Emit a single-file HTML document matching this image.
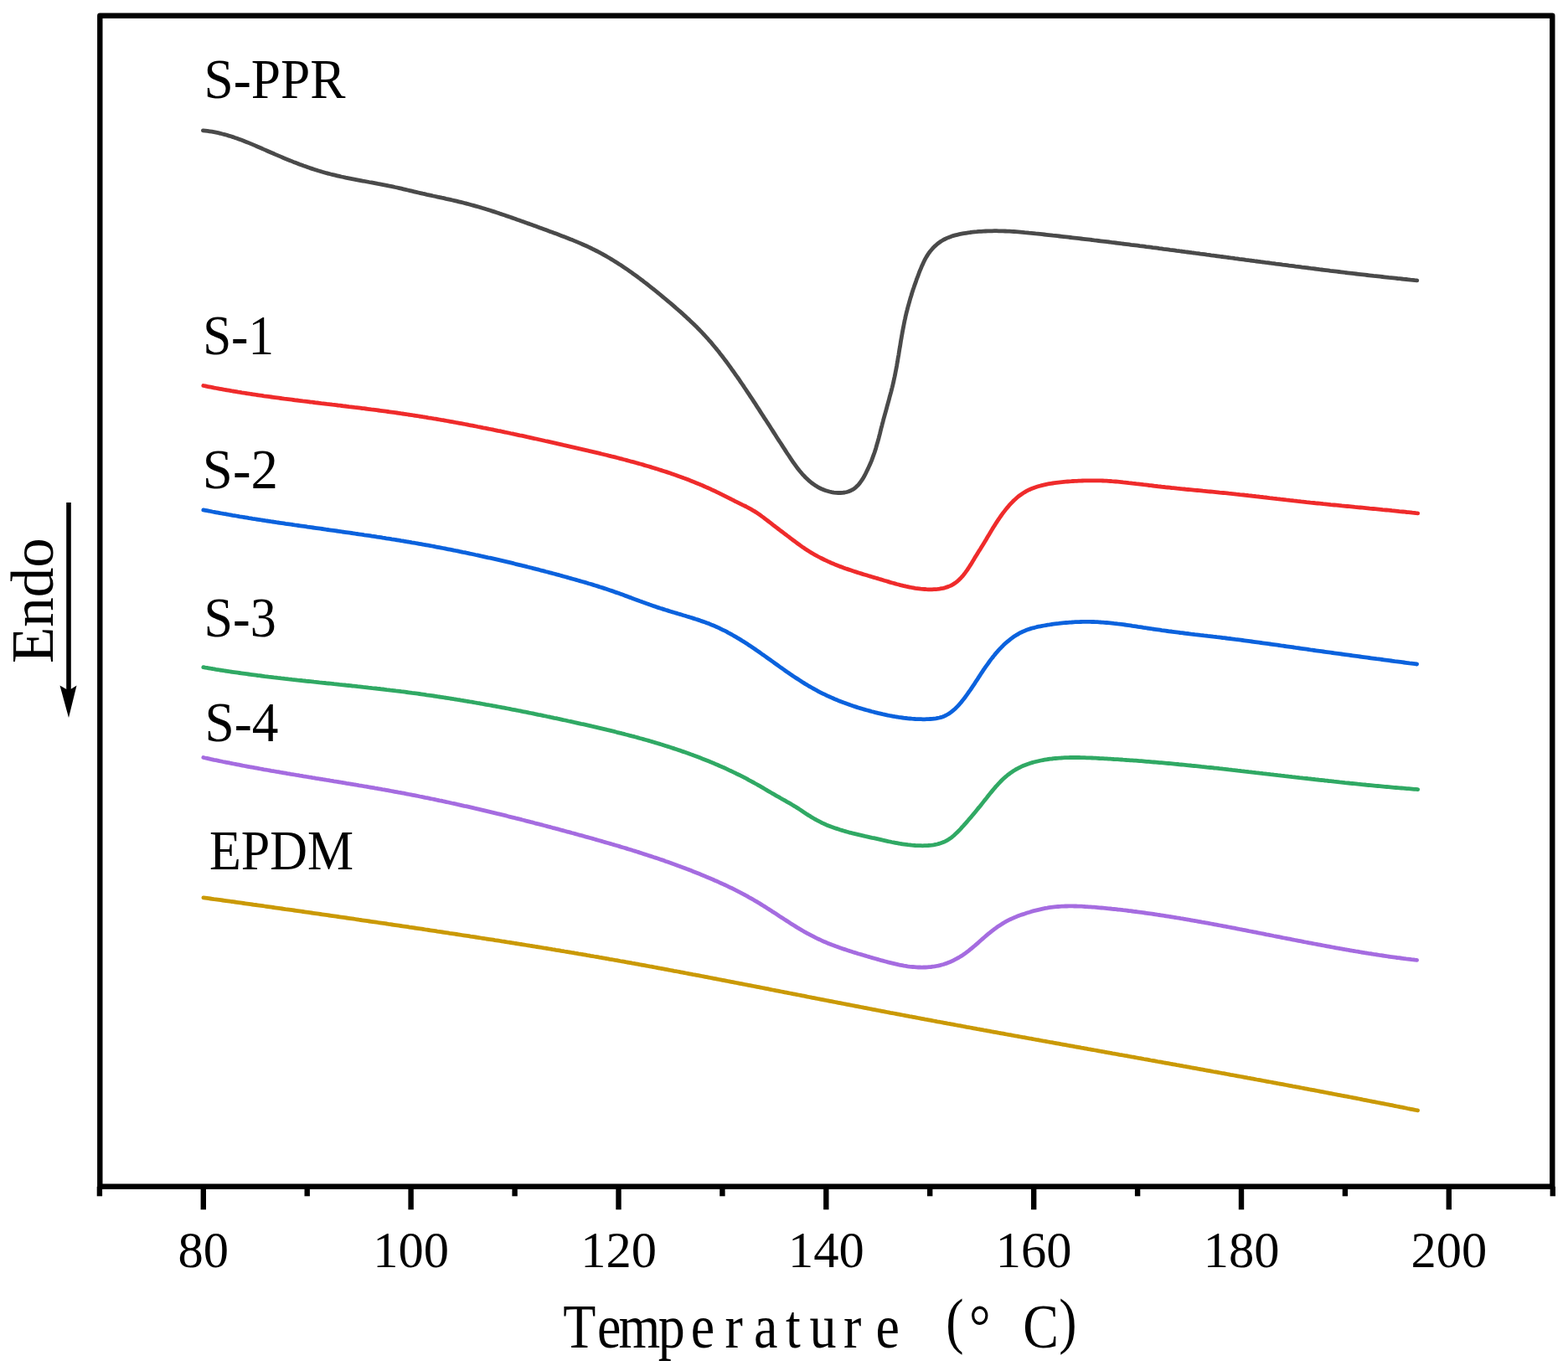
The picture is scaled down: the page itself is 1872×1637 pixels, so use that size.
<!DOCTYPE html>
<html><head><meta charset="utf-8"><title>DSC curves</title>
<style>
html,body{margin:0;padding:0;background:#fff;}
body{width:1872px;height:1637px;overflow:hidden;}
svg{display:block;}
.c{fill:none;stroke-width:4.8;stroke-linejoin:round;stroke-linecap:round;}
.ax line{stroke:#000;stroke-width:6.4;stroke-linecap:butt;}
.lbl{font-family:"Liberation Serif","Times New Roman",serif;font-size:67px;fill:#000;}
.tk{font-family:"Liberation Serif","Times New Roman",serif;font-size:60.5px;fill:#000;}
.xl{font-family:"Liberation Serif","Noto Serif CJK SC",serif;font-size:64px;fill:#000;white-space:pre;}
</style></head>
<body>
<svg width="1872" height="1637" viewBox="0 0 1872 1637">
<rect x="0" y="0" width="1872" height="1637" fill="#fff"/>
<g>
<rect x="119.3" y="18.7" width="1734.0" height="1398.1" fill="none" stroke="#000" stroke-width="6.4" stroke-linejoin="round"/>
<g class="ax">
<line x1="118.9" y1="1416.8" x2="118.9" y2="1428.3"/>
<line x1="242.8" y1="1416.8" x2="242.8" y2="1444.3"/>
<line x1="366.7" y1="1416.8" x2="366.7" y2="1428.3"/>
<line x1="490.6" y1="1416.8" x2="490.6" y2="1444.3"/>
<line x1="614.6" y1="1416.8" x2="614.6" y2="1428.3"/>
<line x1="738.5" y1="1416.8" x2="738.5" y2="1444.3"/>
<line x1="862.4" y1="1416.8" x2="862.4" y2="1428.3"/>
<line x1="986.3" y1="1416.8" x2="986.3" y2="1444.3"/>
<line x1="1110.2" y1="1416.8" x2="1110.2" y2="1428.3"/>
<line x1="1234.2" y1="1416.8" x2="1234.2" y2="1444.3"/>
<line x1="1358.1" y1="1416.8" x2="1358.1" y2="1428.3"/>
<line x1="1482.0" y1="1416.8" x2="1482.0" y2="1444.3"/>
<line x1="1605.9" y1="1416.8" x2="1605.9" y2="1428.3"/>
<line x1="1729.8" y1="1416.8" x2="1729.8" y2="1444.3"/>
<line x1="1853.8" y1="1416.8" x2="1853.8" y2="1428.3"/>
</g>
<g>
<path class="c" stroke="#4a4a4a" d="M242.4,155.8 L245.0,156.1 L247.7,156.4 L250.3,156.8 L252.9,157.2 L255.5,157.7 L258.0,158.2 L260.6,158.7 L263.1,159.3 L265.7,160.0 L268.2,160.6 L270.7,161.3 L273.2,162.1 L275.7,162.8 L278.1,163.6 L280.6,164.5 L283.0,165.3 L285.5,166.2 L287.9,167.1 L290.4,168.0 L292.8,169.0 L295.2,169.9 L297.6,170.9 L300.0,171.9 L302.4,172.9 L304.8,173.9 L307.2,175.0 L309.6,176.0 L312.0,177.0 L314.4,178.1 L316.8,179.1 L319.2,180.2 L321.5,181.2 L323.9,182.3 L326.3,183.3 L328.7,184.4 L331.1,185.4 L333.5,186.4 L335.9,187.4 L338.3,188.5 L340.7,189.5 L343.1,190.4 L345.6,191.4 L348.0,192.4 L350.4,193.4 L352.8,194.3 L355.3,195.2 L357.7,196.2 L360.1,197.1 L362.6,198.0 L365.0,198.8 L367.5,199.7 L370.0,200.6 L372.4,201.4 L374.9,202.2 L377.4,203.0 L379.8,203.8 L382.3,204.5 L384.8,205.3 L387.3,206.0 L389.8,206.7 L392.3,207.3 L394.9,208.0 L397.4,208.6 L399.9,209.2 L402.4,209.8 L405.0,210.4 L407.5,211.0 L410.1,211.5 L412.6,212.1 L415.2,212.6 L417.7,213.1 L420.3,213.6 L422.9,214.1 L425.4,214.6 L428.0,215.1 L430.6,215.6 L433.1,216.1 L435.7,216.5 L438.3,217.0 L440.8,217.5 L443.4,217.9 L446.0,218.4 L448.5,218.9 L451.1,219.4 L453.7,219.8 L456.2,220.3 L458.8,220.8 L461.4,221.3 L463.9,221.9 L466.5,222.4 L469.0,222.9 L471.6,223.5 L474.1,224.0 L476.6,224.6 L479.2,225.2 L481.7,225.8 L484.2,226.4 L486.8,227.0 L489.3,227.6 L491.8,228.2 L494.4,228.8 L496.9,229.4 L499.4,230.0 L502.0,230.6 L504.5,231.2 L507.0,231.7 L509.6,232.3 L512.1,232.8 L514.7,233.4 L517.2,234.0 L519.8,234.5 L522.3,235.1 L524.9,235.6 L527.4,236.2 L530.0,236.7 L532.5,237.3 L535.0,237.8 L537.6,238.4 L540.1,239.0 L542.7,239.6 L545.2,240.2 L547.7,240.8 L550.3,241.4 L552.8,242.0 L555.3,242.7 L557.8,243.3 L560.3,244.0 L562.9,244.7 L565.4,245.4 L567.9,246.1 L570.4,246.8 L572.9,247.5 L575.4,248.3 L577.9,249.0 L580.4,249.8 L582.8,250.5 L585.3,251.3 L587.8,252.1 L590.3,252.9 L592.8,253.7 L595.2,254.5 L597.7,255.4 L600.2,256.2 L602.7,257.0 L605.1,257.9 L607.6,258.7 L610.1,259.6 L612.5,260.4 L615.0,261.3 L617.4,262.2 L619.9,263.0 L622.4,263.9 L624.8,264.8 L627.3,265.7 L629.7,266.6 L632.2,267.4 L634.6,268.3 L637.1,269.2 L639.5,270.1 L642.0,271.0 L644.5,271.9 L646.9,272.8 L649.4,273.7 L651.8,274.6 L654.3,275.5 L656.7,276.4 L659.2,277.3 L661.6,278.2 L664.1,279.1 L666.5,280.0 L668.9,280.9 L671.4,281.9 L673.8,282.8 L676.2,283.7 L678.7,284.7 L681.1,285.7 L683.5,286.6 L685.9,287.6 L688.3,288.6 L690.7,289.6 L693.1,290.6 L695.5,291.7 L697.8,292.7 L700.2,293.8 L702.6,294.9 L704.9,296.0 L707.2,297.2 L709.6,298.3 L711.9,299.5 L714.2,300.7 L716.5,301.9 L718.8,303.1 L721.0,304.4 L723.3,305.7 L725.6,307.0 L727.8,308.3 L730.0,309.6 L732.3,311.0 L734.5,312.4 L736.7,313.7 L738.9,315.2 L741.1,316.6 L743.2,318.0 L745.4,319.5 L747.6,320.9 L749.7,322.4 L751.9,323.9 L754.0,325.4 L756.1,327.0 L758.3,328.5 L760.4,330.0 L762.5,331.6 L764.6,333.2 L766.7,334.7 L768.7,336.3 L770.8,337.9 L772.9,339.5 L774.9,341.2 L777.0,342.8 L779.0,344.4 L781.1,346.0 L783.1,347.7 L785.2,349.3 L787.2,351.0 L789.2,352.7 L791.2,354.3 L793.2,356.0 L795.2,357.7 L797.2,359.3 L799.2,361.0 L801.2,362.7 L803.2,364.4 L805.2,366.1 L807.1,367.8 L809.1,369.5 L811.0,371.2 L813.0,372.9 L814.9,374.6 L816.8,376.4 L818.7,378.1 L820.6,379.9 L822.5,381.6 L824.4,383.4 L826.3,385.2 L828.2,387.0 L830.0,388.8 L831.9,390.6 L833.7,392.5 L835.5,394.3 L837.3,396.2 L839.1,398.1 L840.9,400.0 L842.6,401.9 L844.4,403.8 L846.1,405.8 L847.8,407.7 L849.6,409.7 L851.2,411.7 L852.9,413.7 L854.6,415.7 L856.2,417.8 L857.9,419.8 L859.5,421.9 L861.1,423.9 L862.7,426.0 L864.3,428.1 L865.9,430.2 L867.5,432.3 L869.0,434.4 L870.6,436.6 L872.1,438.7 L873.6,440.8 L875.2,443.0 L876.7,445.1 L878.2,447.3 L879.7,449.4 L881.2,451.5 L882.7,453.7 L884.1,455.8 L885.6,458.0 L887.1,460.1 L888.5,462.3 L890.0,464.5 L891.4,466.6 L892.9,468.8 L894.3,470.9 L895.7,473.1 L897.1,475.2 L898.6,477.4 L900.0,479.6 L901.4,481.7 L902.8,483.9 L904.2,486.1 L905.6,488.2 L907.0,490.4 L908.4,492.6 L909.8,494.8 L911.2,496.9 L912.6,499.1 L914.1,501.3 L915.5,503.5 L916.9,505.6 L918.3,507.8 L919.7,510.0 L921.1,512.2 L922.5,514.4 L923.9,516.6 L925.3,518.8 L926.7,521.0 L928.1,523.2 L929.5,525.3 L930.9,527.5 L932.4,529.7 L933.8,531.9 L935.2,534.2 L936.7,536.4 L938.1,538.6 L939.5,540.8 L941.0,543.0 L942.5,545.2 L943.9,547.4 L945.4,549.6 L946.9,551.8 L948.4,553.9 L950.0,556.1 L951.5,558.2 L953.1,560.3 L954.7,562.3 L956.4,564.3 L958.1,566.3 L959.9,568.2 L961.6,570.0 L963.5,571.8 L965.4,573.6 L967.3,575.2 L969.3,576.8 L971.4,578.3 L973.5,579.7 L975.7,581.1 L977.9,582.3 L980.2,583.5 L982.6,584.5 L985.1,585.5 L987.7,586.3 L990.2,587.0 L992.9,587.6 L995.5,588.1 L998.2,588.4 L1000.8,588.5 L1003.4,588.5 L1006.0,588.3 L1008.5,588.0 L1011.0,587.5 L1013.3,586.8 L1015.6,585.8 L1017.8,584.7 L1019.8,583.4 L1021.8,581.8 L1023.6,580.1 L1025.3,578.3 L1026.9,576.2 L1028.4,574.1 L1029.9,571.9 L1031.3,569.6 L1032.6,567.2 L1033.8,564.8 L1035.0,562.3 L1036.2,559.9 L1037.3,557.4 L1038.4,555.0 L1039.5,552.5 L1040.5,550.1 L1041.4,547.6 L1042.3,545.1 L1043.2,542.7 L1044.1,540.2 L1044.9,537.7 L1045.7,535.2 L1046.4,532.7 L1047.1,530.2 L1047.8,527.8 L1048.5,525.3 L1049.2,522.8 L1049.8,520.3 L1050.5,517.8 L1051.1,515.3 L1051.7,512.8 L1052.3,510.3 L1053.0,507.8 L1053.6,505.3 L1054.3,502.8 L1054.9,500.3 L1055.6,497.8 L1056.3,495.3 L1057.0,492.8 L1057.7,490.3 L1058.4,487.8 L1059.1,485.2 L1059.8,482.7 L1060.5,480.2 L1061.2,477.7 L1061.8,475.2 L1062.5,472.6 L1063.2,470.1 L1063.9,467.6 L1064.5,465.1 L1065.2,462.5 L1065.8,460.0 L1066.4,457.4 L1067.0,454.9 L1067.5,452.3 L1068.1,449.8 L1068.6,447.2 L1069.1,444.6 L1069.6,442.1 L1070.1,439.5 L1070.6,436.9 L1071.0,434.4 L1071.5,431.8 L1071.9,429.2 L1072.3,426.6 L1072.8,424.1 L1073.2,421.5 L1073.6,418.9 L1074.0,416.3 L1074.5,413.8 L1074.9,411.2 L1075.3,408.6 L1075.7,406.0 L1076.2,403.5 L1076.6,400.9 L1077.1,398.3 L1077.5,395.8 L1078.0,393.2 L1078.5,390.7 L1079.0,388.1 L1079.5,385.6 L1080.0,383.0 L1080.6,380.5 L1081.1,378.0 L1081.7,375.5 L1082.3,372.9 L1083.0,370.4 L1083.6,367.9 L1084.3,365.4 L1085.0,362.9 L1085.7,360.4 L1086.4,357.9 L1087.1,355.4 L1087.9,353.0 L1088.6,350.5 L1089.4,348.0 L1090.2,345.5 L1091.1,343.0 L1091.9,340.6 L1092.8,338.1 L1093.7,335.6 L1094.5,333.1 L1095.5,330.7 L1096.4,328.2 L1097.3,325.7 L1098.3,323.2 L1099.3,320.8 L1100.3,318.3 L1101.4,315.9 L1102.5,313.5 L1103.6,311.2 L1104.8,308.9 L1106.1,306.6 L1107.5,304.4 L1108.9,302.2 L1110.4,300.2 L1112.1,298.2 L1113.8,296.2 L1115.6,294.4 L1117.5,292.7 L1119.4,291.0 L1121.5,289.5 L1123.6,288.0 L1125.8,286.7 L1128.1,285.5 L1130.4,284.4 L1132.8,283.4 L1135.3,282.5 L1137.7,281.6 L1140.3,280.9 L1142.8,280.3 L1145.4,279.7 L1148.0,279.2 L1150.6,278.7 L1153.2,278.3 L1155.8,277.9 L1158.4,277.5 L1161.0,277.2 L1163.6,276.9 L1166.2,276.7 L1168.8,276.4 L1171.4,276.3 L1174.1,276.1 L1176.7,276.0 L1179.3,275.9 L1181.9,275.8 L1184.5,275.8 L1187.1,275.7 L1189.7,275.7 L1192.3,275.8 L1194.9,275.8 L1197.5,275.9 L1200.1,276.0 L1202.7,276.1 L1205.3,276.2 L1207.9,276.4 L1210.5,276.5 L1213.0,276.7 L1215.6,276.9 L1218.2,277.1 L1220.8,277.3 L1223.4,277.6 L1226.0,277.8 L1228.6,278.1 L1231.2,278.3 L1233.8,278.6 L1236.4,278.9 L1239.0,279.1 L1241.6,279.4 L1244.2,279.7 L1246.8,280.0 L1249.4,280.3 L1252.0,280.6 L1254.6,280.9 L1257.1,281.2 L1259.7,281.4 L1262.3,281.7 L1264.9,282.0 L1267.5,282.3 L1270.1,282.6 L1272.7,282.9 L1275.3,283.2 L1277.9,283.5 L1280.5,283.8 L1283.1,284.1 L1285.6,284.4 L1288.2,284.7 L1290.8,285.0 L1293.4,285.3 L1296.0,285.6 L1298.6,285.9 L1301.2,286.2 L1303.8,286.5 L1306.4,286.9 L1308.9,287.2 L1311.5,287.5 L1314.1,287.8 L1316.7,288.1 L1319.3,288.4 L1321.9,288.7 L1324.5,289.0 L1327.1,289.4 L1329.6,289.7 L1332.2,290.0 L1334.8,290.3 L1337.4,290.6 L1340.0,291.0 L1342.6,291.3 L1345.2,291.6 L1347.7,291.9 L1350.3,292.3 L1352.9,292.6 L1355.5,292.9 L1358.1,293.2 L1360.7,293.6 L1363.3,293.9 L1365.8,294.2 L1368.4,294.6 L1371.0,294.9 L1373.6,295.2 L1376.2,295.6 L1378.8,295.9 L1381.4,296.2 L1383.9,296.6 L1386.5,296.9 L1389.1,297.3 L1391.7,297.6 L1394.3,297.9 L1396.9,298.3 L1399.5,298.6 L1402.0,298.9 L1404.6,299.3 L1407.2,299.6 L1409.8,300.0 L1412.4,300.3 L1415.0,300.7 L1417.5,301.0 L1420.1,301.3 L1422.7,301.7 L1425.3,302.0 L1427.9,302.4 L1430.5,302.7 L1433.1,303.1 L1435.6,303.4 L1438.2,303.7 L1440.8,304.1 L1443.4,304.4 L1446.0,304.8 L1448.6,305.1 L1451.1,305.5 L1453.7,305.8 L1456.3,306.2 L1458.9,306.5 L1461.5,306.8 L1464.1,307.2 L1466.7,307.5 L1469.2,307.9 L1471.8,308.2 L1474.4,308.6 L1477.0,308.9 L1479.6,309.3 L1482.2,309.6 L1484.7,309.9 L1487.3,310.3 L1489.9,310.6 L1492.5,311.0 L1495.1,311.3 L1497.7,311.7 L1500.2,312.0 L1502.8,312.3 L1505.4,312.7 L1508.0,313.0 L1510.6,313.4 L1513.2,313.7 L1515.8,314.0 L1518.3,314.4 L1520.9,314.7 L1523.5,315.1 L1526.1,315.4 L1528.7,315.7 L1531.3,316.1 L1533.9,316.4 L1536.4,316.7 L1539.0,317.1 L1541.6,317.4 L1544.2,317.7 L1546.8,318.1 L1549.4,318.4 L1552.0,318.7 L1554.5,319.1 L1557.1,319.4 L1559.7,319.7 L1562.3,320.0 L1564.9,320.4 L1567.5,320.7 L1570.1,321.0 L1572.6,321.3 L1575.2,321.7 L1577.8,322.0 L1580.4,322.3 L1583.0,322.6 L1585.6,322.9 L1588.2,323.3 L1590.8,323.6 L1593.3,323.9 L1595.9,324.2 L1598.5,324.5 L1601.1,324.8 L1603.7,325.1 L1606.3,325.5 L1608.9,325.8 L1611.5,326.1 L1614.0,326.4 L1616.6,326.7 L1619.2,327.0 L1621.8,327.3 L1624.4,327.6 L1627.0,327.9 L1629.6,328.2 L1632.2,328.5 L1634.8,328.8 L1637.4,329.1 L1639.9,329.4 L1642.5,329.6 L1645.1,329.9 L1647.7,330.2 L1650.3,330.5 L1652.9,330.8 L1655.5,331.1 L1658.1,331.4 L1660.7,331.6 L1663.3,331.9 L1665.9,332.2 L1668.5,332.5 L1671.0,332.7 L1673.6,333.0 L1676.2,333.3 L1678.8,333.5 L1681.4,333.8 L1684.0,334.1 L1686.6,334.3 L1689.2,334.6 L1691.8,334.8"/>
<path class="c" stroke="#ef2b2b" d="M242.8,460.5 L245.0,460.9 L247.2,461.4 L249.4,461.8 L251.5,462.2 L253.7,462.6 L255.9,463.1 L258.1,463.5 L260.3,463.9 L262.5,464.3 L264.7,464.7 L266.8,465.1 L269.0,465.5 L271.2,465.8 L273.4,466.2 L275.6,466.6 L277.8,467.0 L280.0,467.3 L282.2,467.7 L284.4,468.1 L286.6,468.4 L288.8,468.8 L291.0,469.1 L293.2,469.5 L295.4,469.8 L297.5,470.1 L299.7,470.5 L301.9,470.8 L304.1,471.1 L306.3,471.5 L308.5,471.8 L310.7,472.1 L312.9,472.4 L315.1,472.8 L317.3,473.1 L319.6,473.4 L321.8,473.7 L324.0,474.0 L326.2,474.3 L328.4,474.6 L330.6,474.9 L332.8,475.2 L335.0,475.5 L337.2,475.8 L339.4,476.1 L341.6,476.3 L343.8,476.6 L346.0,476.9 L348.2,477.2 L350.4,477.5 L352.6,477.8 L354.8,478.0 L357.1,478.3 L359.3,478.6 L361.5,478.9 L363.7,479.1 L365.9,479.4 L368.1,479.7 L370.3,480.0 L372.5,480.2 L374.7,480.5 L376.9,480.8 L379.1,481.0 L381.4,481.3 L383.6,481.6 L385.8,481.8 L388.0,482.1 L390.2,482.4 L392.4,482.6 L394.6,482.9 L396.8,483.2 L399.0,483.4 L401.2,483.7 L403.5,484.0 L405.7,484.2 L407.9,484.5 L410.1,484.8 L412.3,485.0 L414.5,485.3 L416.7,485.6 L418.9,485.8 L421.1,486.1 L423.3,486.4 L425.6,486.6 L427.8,486.9 L430.0,487.2 L432.2,487.5 L434.4,487.7 L436.6,488.0 L438.8,488.3 L441.0,488.6 L443.2,488.9 L445.4,489.1 L447.6,489.4 L449.8,489.7 L452.0,490.0 L454.2,490.3 L456.5,490.6 L458.7,490.9 L460.9,491.2 L463.1,491.5 L465.3,491.8 L467.5,492.1 L469.7,492.4 L471.9,492.7 L474.1,493.0 L476.3,493.3 L478.5,493.7 L480.7,494.0 L482.9,494.3 L485.1,494.6 L487.3,495.0 L489.5,495.3 L491.7,495.6 L493.9,496.0 L496.1,496.3 L498.3,496.6 L500.4,497.0 L502.6,497.3 L504.8,497.7 L507.0,498.0 L509.2,498.4 L511.4,498.8 L513.6,499.1 L515.8,499.5 L518.0,499.9 L520.2,500.2 L522.4,500.6 L524.6,501.0 L526.7,501.4 L528.9,501.7 L531.1,502.1 L533.3,502.5 L535.5,502.9 L537.7,503.3 L539.9,503.7 L542.1,504.1 L544.2,504.5 L546.4,504.9 L548.6,505.3 L550.8,505.7 L553.0,506.1 L555.2,506.5 L557.3,506.9 L559.5,507.4 L561.7,507.8 L563.9,508.2 L566.1,508.6 L568.3,509.0 L570.4,509.5 L572.6,509.9 L574.8,510.3 L577.0,510.8 L579.2,511.2 L581.3,511.6 L583.5,512.1 L585.7,512.5 L587.9,512.9 L590.0,513.4 L592.2,513.8 L594.4,514.3 L596.6,514.7 L598.8,515.2 L600.9,515.6 L603.1,516.1 L605.3,516.5 L607.5,517.0 L609.6,517.5 L611.8,517.9 L614.0,518.4 L616.2,518.8 L618.3,519.3 L620.5,519.8 L622.7,520.2 L624.9,520.7 L627.0,521.2 L629.2,521.7 L631.4,522.1 L633.5,522.6 L635.7,523.1 L637.9,523.6 L640.1,524.0 L642.2,524.5 L644.4,525.0 L646.6,525.5 L648.8,526.0 L650.9,526.5 L653.1,526.9 L655.3,527.4 L657.4,527.9 L659.6,528.4 L661.8,528.9 L664.0,529.4 L666.1,529.9 L668.3,530.4 L670.5,530.9 L672.6,531.4 L674.8,531.8 L677.0,532.3 L679.2,532.8 L681.3,533.3 L683.5,533.8 L685.7,534.3 L687.8,534.8 L690.0,535.3 L692.2,535.8 L694.4,536.3 L696.5,536.8 L698.7,537.3 L700.9,537.8 L703.0,538.4 L705.2,538.9 L707.4,539.4 L709.5,539.9 L711.7,540.4 L713.9,540.9 L716.0,541.4 L718.2,542.0 L720.4,542.5 L722.5,543.0 L724.7,543.5 L726.9,544.1 L729.0,544.6 L731.2,545.2 L733.3,545.7 L735.5,546.2 L737.7,546.8 L739.8,547.4 L742.0,547.9 L744.1,548.5 L746.3,549.0 L748.4,549.6 L750.6,550.2 L752.7,550.8 L754.9,551.3 L757.0,551.9 L759.1,552.5 L761.3,553.1 L763.4,553.7 L765.6,554.3 L767.7,554.9 L769.8,555.6 L772.0,556.2 L774.1,556.8 L776.2,557.4 L778.3,558.1 L780.5,558.7 L782.6,559.4 L784.7,560.0 L786.8,560.7 L788.9,561.4 L791.1,562.1 L793.2,562.7 L795.3,563.4 L797.4,564.1 L799.5,564.8 L801.6,565.6 L803.7,566.3 L805.8,567.0 L807.9,567.7 L809.9,568.5 L812.0,569.2 L814.1,570.0 L816.2,570.8 L818.3,571.5 L820.3,572.3 L822.4,573.1 L824.5,573.9 L826.5,574.7 L828.6,575.6 L830.7,576.4 L832.7,577.2 L834.8,578.1 L836.8,578.9 L838.9,579.8 L840.9,580.7 L842.9,581.6 L845.0,582.5 L847.0,583.4 L849.0,584.3 L851.0,585.3 L853.1,586.2 L855.1,587.2 L857.1,588.1 L859.1,589.1 L861.1,590.1 L863.1,591.1 L865.1,592.1 L867.1,593.1 L869.1,594.1 L871.1,595.1 L873.1,596.2 L875.1,597.2 L877.0,598.2 L879.0,599.1 L881.0,600.1 L883.0,601.1 L885.0,602.1 L887.0,603.1 L889.0,604.0 L891.0,605.0 L893.0,606.1 L894.9,607.1 L896.8,608.2 L898.7,609.3 L900.6,610.4 L902.5,611.6 L904.3,612.8 L906.1,614.0 L908.0,615.3 L909.7,616.6 L911.5,617.9 L913.3,619.3 L915.0,620.6 L916.8,622.0 L918.6,623.4 L920.3,624.7 L922.1,626.1 L923.8,627.5 L925.6,628.8 L927.4,630.2 L929.1,631.5 L930.9,632.9 L932.7,634.2 L934.5,635.5 L936.2,636.9 L938.0,638.2 L939.8,639.6 L941.6,640.9 L943.4,642.3 L945.1,643.6 L946.9,645.0 L948.7,646.3 L950.5,647.6 L952.3,649.0 L954.1,650.3 L955.9,651.6 L957.7,652.9 L959.5,654.1 L961.4,655.4 L963.2,656.6 L965.1,657.8 L967.0,659.0 L968.8,660.1 L970.8,661.3 L972.7,662.4 L974.6,663.4 L976.6,664.5 L978.5,665.5 L980.5,666.5 L982.5,667.5 L984.5,668.5 L986.5,669.4 L988.5,670.4 L990.6,671.3 L992.6,672.2 L994.6,673.0 L996.7,673.9 L998.8,674.7 L1000.8,675.6 L1002.9,676.4 L1005.0,677.1 L1007.1,677.9 L1009.2,678.7 L1011.3,679.4 L1013.4,680.1 L1015.5,680.8 L1017.6,681.5 L1019.7,682.2 L1021.9,682.9 L1024.0,683.6 L1026.1,684.2 L1028.2,684.9 L1030.4,685.6 L1032.5,686.2 L1034.6,686.8 L1036.8,687.5 L1038.9,688.1 L1041.0,688.7 L1043.1,689.4 L1045.3,690.0 L1047.4,690.6 L1049.5,691.3 L1051.6,691.9 L1053.7,692.5 L1055.9,693.2 L1058.0,693.8 L1060.1,694.4 L1062.2,695.1 L1064.3,695.7 L1066.5,696.3 L1068.6,696.9 L1070.7,697.5 L1072.9,698.0 L1075.0,698.6 L1077.2,699.1 L1079.4,699.7 L1081.6,700.2 L1083.8,700.6 L1086.0,701.1 L1088.2,701.5 L1090.4,701.9 L1092.6,702.3 L1094.8,702.6 L1097.0,702.9 L1099.3,703.2 L1101.5,703.4 L1103.8,703.5 L1106.0,703.7 L1108.2,703.8 L1110.5,703.8 L1112.8,703.8 L1115.0,703.7 L1117.2,703.6 L1119.5,703.4 L1121.7,703.1 L1123.9,702.7 L1126.0,702.3 L1128.1,701.8 L1130.2,701.1 L1132.3,700.4 L1134.2,699.6 L1136.2,698.7 L1138.0,697.6 L1139.9,696.4 L1141.6,695.2 L1143.3,693.8 L1144.9,692.4 L1146.5,690.8 L1148.0,689.2 L1149.5,687.6 L1150.9,685.8 L1152.2,684.1 L1153.6,682.2 L1154.9,680.4 L1156.1,678.5 L1157.4,676.5 L1158.6,674.6 L1159.8,672.7 L1161.0,670.7 L1162.2,668.8 L1163.3,666.8 L1164.5,664.9 L1165.7,663.0 L1166.9,661.1 L1168.0,659.2 L1169.2,657.3 L1170.4,655.5 L1171.5,653.6 L1172.7,651.7 L1173.8,649.9 L1175.0,648.0 L1176.1,646.1 L1177.3,644.2 L1178.4,642.3 L1179.5,640.4 L1180.7,638.5 L1181.8,636.6 L1182.9,634.7 L1184.1,632.8 L1185.2,630.9 L1186.4,629.0 L1187.6,627.1 L1188.8,625.2 L1190.0,623.4 L1191.2,621.5 L1192.5,619.7 L1193.7,617.8 L1195.0,616.0 L1196.3,614.2 L1197.6,612.4 L1199.0,610.6 L1200.3,608.9 L1201.7,607.1 L1203.2,605.4 L1204.6,603.7 L1206.1,602.0 L1207.7,600.4 L1209.2,598.8 L1210.8,597.2 L1212.5,595.7 L1214.1,594.3 L1215.8,592.8 L1217.6,591.5 L1219.4,590.2 L1221.2,589.0 L1223.1,587.8 L1225.0,586.7 L1226.9,585.7 L1228.9,584.7 L1230.9,583.8 L1233.0,583.0 L1235.0,582.2 L1237.1,581.5 L1239.3,580.8 L1241.4,580.2 L1243.6,579.6 L1245.7,579.1 L1247.9,578.6 L1250.1,578.1 L1252.3,577.7 L1254.5,577.3 L1256.8,577.0 L1259.0,576.7 L1261.2,576.4 L1263.4,576.1 L1265.6,575.8 L1267.8,575.6 L1270.0,575.4 L1272.3,575.2 L1274.5,575.0 L1276.7,574.8 L1278.9,574.7 L1281.1,574.5 L1283.3,574.4 L1285.6,574.3 L1287.8,574.1 L1290.0,574.1 L1292.2,574.0 L1294.4,573.9 L1296.6,573.8 L1298.9,573.8 L1301.1,573.8 L1303.3,573.8 L1305.5,573.8 L1307.7,573.8 L1310.0,573.8 L1312.2,573.9 L1314.4,573.9 L1316.6,574.0 L1318.8,574.1 L1321.0,574.2 L1323.3,574.4 L1325.5,574.5 L1327.7,574.7 L1329.9,574.8 L1332.1,575.0 L1334.3,575.2 L1336.6,575.4 L1338.8,575.6 L1341.0,575.9 L1343.2,576.1 L1345.4,576.3 L1347.6,576.6 L1349.8,576.8 L1352.1,577.1 L1354.3,577.3 L1356.5,577.6 L1358.7,577.8 L1360.9,578.1 L1363.1,578.4 L1365.3,578.7 L1367.5,578.9 L1369.8,579.2 L1372.0,579.5 L1374.2,579.7 L1376.4,580.0 L1378.6,580.3 L1380.8,580.5 L1383.0,580.8 L1385.2,581.0 L1387.5,581.3 L1389.7,581.5 L1391.9,581.8 L1394.1,582.0 L1396.3,582.2 L1398.5,582.5 L1400.7,582.7 L1403.0,582.9 L1405.2,583.2 L1407.4,583.4 L1409.6,583.6 L1411.8,583.8 L1414.0,584.0 L1416.2,584.3 L1418.4,584.5 L1420.7,584.7 L1422.9,584.9 L1425.1,585.1 L1427.3,585.3 L1429.5,585.5 L1431.7,585.7 L1433.9,585.9 L1436.2,586.2 L1438.4,586.4 L1440.6,586.6 L1442.8,586.8 L1445.0,587.0 L1447.2,587.2 L1449.4,587.4 L1451.6,587.6 L1453.9,587.8 L1456.1,588.1 L1458.3,588.3 L1460.5,588.5 L1462.7,588.7 L1464.9,588.9 L1467.1,589.2 L1469.3,589.4 L1471.5,589.6 L1473.8,589.8 L1476.0,590.1 L1478.2,590.3 L1480.4,590.6 L1482.6,590.8 L1484.8,591.0 L1487.0,591.3 L1489.2,591.5 L1491.4,591.8 L1493.6,592.0 L1495.9,592.3 L1498.1,592.5 L1500.3,592.8 L1502.5,593.0 L1504.7,593.3 L1506.9,593.5 L1509.1,593.8 L1511.3,594.0 L1513.5,594.3 L1515.7,594.6 L1517.9,594.8 L1520.2,595.1 L1522.4,595.3 L1524.6,595.6 L1526.8,595.8 L1529.0,596.1 L1531.2,596.3 L1533.4,596.6 L1535.6,596.9 L1537.8,597.1 L1540.0,597.4 L1542.3,597.6 L1544.5,597.9 L1546.7,598.1 L1548.9,598.4 L1551.1,598.6 L1553.3,598.9 L1555.5,599.1 L1557.7,599.3 L1559.9,599.6 L1562.1,599.8 L1564.4,600.1 L1566.6,600.3 L1568.8,600.5 L1571.0,600.8 L1573.2,601.0 L1575.4,601.2 L1577.6,601.4 L1579.8,601.7 L1582.1,601.9 L1584.3,602.1 L1586.5,602.3 L1588.7,602.6 L1590.9,602.8 L1593.1,603.0 L1595.3,603.2 L1597.5,603.4 L1599.8,603.6 L1602.0,603.9 L1604.2,604.1 L1606.4,604.3 L1608.6,604.5 L1610.8,604.7 L1613.0,604.9 L1615.3,605.1 L1617.5,605.4 L1619.7,605.6 L1621.9,605.8 L1624.1,606.0 L1626.3,606.2 L1628.5,606.4 L1630.7,606.6 L1633.0,606.8 L1635.2,607.1 L1637.4,607.3 L1639.6,607.5 L1641.8,607.7 L1644.0,607.9 L1646.2,608.1 L1648.5,608.3 L1650.7,608.6 L1652.9,608.8 L1655.1,609.0 L1657.3,609.2 L1659.5,609.4 L1661.7,609.7 L1663.9,609.9 L1666.2,610.1 L1668.4,610.3 L1670.6,610.6 L1672.8,610.8 L1675.0,611.0 L1677.2,611.2 L1679.4,611.5 L1681.6,611.7 L1683.9,611.9 L1686.1,612.2 L1688.3,612.4 L1690.5,612.7 L1692.7,612.9"/>
<path class="c" stroke="#0b62dd" d="M242.8,608.9 L245.0,609.3 L247.1,609.7 L249.3,610.1 L251.5,610.5 L253.6,611.0 L255.8,611.4 L258.0,611.8 L260.2,612.2 L262.3,612.6 L264.5,613.0 L266.7,613.4 L268.9,613.7 L271.0,614.1 L273.2,614.5 L275.4,614.9 L277.6,615.3 L279.7,615.6 L281.9,616.0 L284.1,616.4 L286.3,616.8 L288.5,617.1 L290.6,617.5 L292.8,617.8 L295.0,618.2 L297.2,618.6 L299.4,618.9 L301.5,619.3 L303.7,619.6 L305.9,620.0 L308.1,620.3 L310.3,620.6 L312.5,621.0 L314.6,621.3 L316.8,621.7 L319.0,622.0 L321.2,622.3 L323.4,622.7 L325.6,623.0 L327.8,623.3 L329.9,623.7 L332.1,624.0 L334.3,624.3 L336.5,624.6 L338.7,624.9 L340.9,625.3 L343.1,625.6 L345.3,625.9 L347.4,626.2 L349.6,626.5 L351.8,626.9 L354.0,627.2 L356.2,627.5 L358.4,627.8 L360.6,628.1 L362.8,628.4 L365.0,628.7 L367.1,629.1 L369.3,629.4 L371.5,629.7 L373.7,630.0 L375.9,630.3 L378.1,630.6 L380.3,630.9 L382.5,631.2 L384.7,631.5 L386.9,631.8 L389.0,632.2 L391.2,632.5 L393.4,632.8 L395.6,633.1 L397.8,633.4 L400.0,633.7 L402.2,634.0 L404.4,634.3 L406.6,634.6 L408.7,635.0 L410.9,635.3 L413.1,635.6 L415.3,635.9 L417.5,636.2 L419.7,636.5 L421.9,636.8 L424.1,637.2 L426.3,637.5 L428.4,637.8 L430.6,638.1 L432.8,638.4 L435.0,638.8 L437.2,639.1 L439.4,639.4 L441.6,639.7 L443.8,640.1 L445.9,640.4 L448.1,640.7 L450.3,641.1 L452.5,641.4 L454.7,641.7 L456.9,642.1 L459.1,642.4 L461.2,642.8 L463.4,643.1 L465.6,643.4 L467.8,643.8 L470.0,644.1 L472.2,644.5 L474.3,644.8 L476.5,645.2 L478.7,645.6 L480.9,645.9 L483.1,646.3 L485.2,646.7 L487.4,647.0 L489.6,647.4 L491.8,647.8 L494.0,648.1 L496.1,648.5 L498.3,648.9 L500.5,649.3 L502.7,649.7 L504.8,650.1 L507.0,650.5 L509.2,650.8 L511.4,651.2 L513.5,651.6 L515.7,652.0 L517.9,652.4 L520.1,652.9 L522.2,653.3 L524.4,653.7 L526.6,654.1 L528.7,654.5 L530.9,654.9 L533.1,655.4 L535.2,655.8 L537.4,656.2 L539.6,656.6 L541.8,657.1 L543.9,657.5 L546.1,657.9 L548.3,658.4 L550.4,658.8 L552.6,659.3 L554.7,659.7 L556.9,660.2 L559.1,660.6 L561.2,661.1 L563.4,661.5 L565.6,662.0 L567.7,662.5 L569.9,662.9 L572.0,663.4 L574.2,663.9 L576.4,664.3 L578.5,664.8 L580.7,665.3 L582.8,665.8 L585.0,666.2 L587.2,666.7 L589.3,667.2 L591.5,667.7 L593.6,668.2 L595.8,668.7 L597.9,669.2 L600.1,669.7 L602.2,670.2 L604.4,670.7 L606.5,671.2 L608.7,671.7 L610.8,672.2 L613.0,672.7 L615.1,673.3 L617.3,673.8 L619.4,674.3 L621.6,674.8 L623.7,675.4 L625.9,675.9 L628.0,676.4 L630.2,677.0 L632.3,677.5 L634.5,678.0 L636.6,678.6 L638.7,679.1 L640.9,679.7 L643.0,680.2 L645.2,680.8 L647.3,681.3 L649.4,681.9 L651.6,682.5 L653.7,683.0 L655.9,683.6 L658.0,684.1 L660.1,684.7 L662.3,685.3 L664.4,685.9 L666.5,686.4 L668.7,687.0 L670.8,687.6 L672.9,688.2 L675.1,688.8 L677.2,689.4 L679.3,690.0 L681.5,690.6 L683.6,691.2 L685.7,691.8 L687.8,692.4 L690.0,693.0 L692.1,693.6 L694.2,694.2 L696.3,694.8 L698.5,695.4 L700.6,696.0 L702.7,696.7 L704.8,697.3 L706.9,697.9 L709.1,698.6 L711.2,699.2 L713.3,699.9 L715.4,700.6 L717.5,701.2 L719.6,701.9 L721.7,702.6 L723.8,703.3 L725.9,704.0 L728.0,704.7 L730.1,705.4 L732.2,706.1 L734.2,706.9 L736.3,707.6 L738.4,708.3 L740.5,709.1 L742.6,709.8 L744.6,710.6 L746.7,711.4 L748.8,712.1 L750.8,712.9 L752.9,713.6 L755.0,714.4 L757.1,715.2 L759.1,715.9 L761.2,716.7 L763.3,717.5 L765.4,718.2 L767.4,719.0 L769.5,719.7 L771.6,720.5 L773.7,721.2 L775.8,722.0 L777.9,722.7 L779.9,723.4 L782.0,724.1 L784.1,724.9 L786.2,725.6 L788.3,726.3 L790.4,726.9 L792.5,727.6 L794.7,728.3 L796.8,728.9 L798.9,729.6 L801.0,730.2 L803.1,730.9 L805.3,731.5 L807.4,732.1 L809.5,732.8 L811.6,733.4 L813.8,734.0 L815.9,734.7 L818.0,735.3 L820.1,736.0 L822.3,736.6 L824.4,737.2 L826.5,737.9 L828.6,738.6 L830.7,739.3 L832.8,739.9 L834.9,740.6 L837.0,741.4 L839.1,742.1 L841.1,742.8 L843.2,743.6 L845.3,744.3 L847.3,745.1 L849.4,746.0 L851.4,746.8 L853.4,747.6 L855.4,748.5 L857.4,749.4 L859.4,750.3 L861.4,751.3 L863.4,752.3 L865.3,753.2 L867.3,754.2 L869.2,755.3 L871.2,756.3 L873.1,757.4 L875.0,758.5 L876.9,759.6 L878.8,760.7 L880.7,761.8 L882.6,762.9 L884.5,764.1 L886.4,765.3 L888.3,766.4 L890.1,767.6 L892.0,768.8 L893.8,770.1 L895.7,771.3 L897.5,772.5 L899.4,773.8 L901.2,775.0 L903.0,776.3 L904.8,777.5 L906.7,778.8 L908.5,780.1 L910.3,781.4 L912.1,782.6 L913.9,783.9 L915.7,785.2 L917.5,786.5 L919.4,787.8 L921.2,789.1 L923.0,790.4 L924.8,791.7 L926.6,793.0 L928.4,794.3 L930.2,795.6 L932.0,796.9 L933.8,798.1 L935.6,799.4 L937.4,800.7 L939.2,802.0 L941.1,803.2 L942.9,804.5 L944.7,805.7 L946.5,807.0 L948.4,808.2 L950.2,809.4 L952.1,810.6 L953.9,811.8 L955.8,813.0 L957.6,814.2 L959.5,815.4 L961.4,816.6 L963.3,817.7 L965.1,818.8 L967.0,819.9 L969.0,821.0 L970.9,822.1 L972.8,823.2 L974.7,824.2 L976.7,825.3 L978.6,826.3 L980.6,827.3 L982.6,828.3 L984.5,829.2 L986.5,830.2 L988.5,831.1 L990.5,832.0 L992.5,832.9 L994.5,833.8 L996.6,834.7 L998.6,835.5 L1000.7,836.4 L1002.7,837.2 L1004.8,838.0 L1006.8,838.8 L1008.9,839.5 L1011.0,840.3 L1013.0,841.0 L1015.1,841.8 L1017.2,842.5 L1019.3,843.2 L1021.4,843.9 L1023.5,844.6 L1025.6,845.2 L1027.8,845.9 L1029.9,846.5 L1032.0,847.1 L1034.1,847.7 L1036.3,848.3 L1038.4,848.9 L1040.5,849.5 L1042.7,850.0 L1044.8,850.6 L1047.0,851.1 L1049.1,851.7 L1051.3,852.2 L1053.5,852.7 L1055.6,853.1 L1057.8,853.6 L1060.0,854.1 L1062.1,854.5 L1064.3,854.9 L1066.5,855.3 L1068.7,855.7 L1070.9,856.0 L1073.0,856.4 L1075.2,856.7 L1077.4,857.0 L1079.6,857.3 L1081.8,857.5 L1084.0,857.8 L1086.2,858.0 L1088.5,858.2 L1090.7,858.3 L1092.9,858.5 L1095.1,858.6 L1097.3,858.7 L1099.6,858.7 L1101.8,858.8 L1104.0,858.8 L1106.3,858.7 L1108.5,858.7 L1110.8,858.5 L1113.0,858.4 L1115.2,858.1 L1117.3,857.8 L1119.5,857.4 L1121.6,857.0 L1123.7,856.4 L1125.7,855.7 L1127.7,854.9 L1129.6,854.0 L1131.4,853.0 L1133.3,851.9 L1135.0,850.6 L1136.8,849.3 L1138.4,847.9 L1140.1,846.5 L1141.7,844.9 L1143.2,843.4 L1144.8,841.7 L1146.2,840.0 L1147.7,838.3 L1149.1,836.5 L1150.5,834.8 L1151.9,833.0 L1153.2,831.2 L1154.5,829.4 L1155.8,827.5 L1157.1,825.7 L1158.4,823.9 L1159.6,822.1 L1160.9,820.2 L1162.1,818.4 L1163.3,816.6 L1164.5,814.7 L1165.7,812.9 L1166.9,811.1 L1168.1,809.2 L1169.3,807.4 L1170.5,805.5 L1171.7,803.7 L1172.9,801.9 L1174.1,800.0 L1175.4,798.2 L1176.6,796.4 L1177.9,794.6 L1179.2,792.8 L1180.5,791.0 L1181.8,789.2 L1183.1,787.4 L1184.5,785.6 L1185.9,783.9 L1187.3,782.1 L1188.7,780.4 L1190.2,778.7 L1191.6,777.0 L1193.1,775.4 L1194.7,773.8 L1196.2,772.2 L1197.8,770.6 L1199.4,769.1 L1201.0,767.6 L1202.7,766.2 L1204.4,764.8 L1206.1,763.4 L1207.8,762.1 L1209.6,760.8 L1211.4,759.6 L1213.2,758.4 L1215.1,757.3 L1217.0,756.2 L1218.9,755.2 L1220.9,754.3 L1222.9,753.4 L1224.9,752.6 L1226.9,751.8 L1229.0,751.1 L1231.1,750.4 L1233.3,749.8 L1235.4,749.3 L1237.6,748.7 L1239.8,748.2 L1242.0,747.8 L1244.2,747.4 L1246.4,747.0 L1248.6,746.6 L1250.8,746.2 L1253.0,745.9 L1255.2,745.5 L1257.4,745.2 L1259.6,744.9 L1261.8,744.6 L1264.0,744.4 L1266.2,744.1 L1268.4,743.9 L1270.6,743.7 L1272.8,743.5 L1275.0,743.3 L1277.2,743.1 L1279.4,743.0 L1281.6,742.8 L1283.8,742.7 L1286.0,742.6 L1288.2,742.6 L1290.4,742.5 L1292.6,742.4 L1294.8,742.4 L1297.0,742.4 L1299.2,742.4 L1301.4,742.4 L1303.6,742.5 L1305.7,742.5 L1307.9,742.6 L1310.1,742.7 L1312.3,742.8 L1314.5,743.0 L1316.7,743.1 L1318.9,743.3 L1321.1,743.5 L1323.3,743.7 L1325.5,743.9 L1327.7,744.1 L1329.9,744.4 L1332.1,744.6 L1334.3,744.9 L1336.5,745.1 L1338.7,745.4 L1340.9,745.7 L1343.1,746.0 L1345.3,746.3 L1347.5,746.6 L1349.7,746.9 L1351.9,747.3 L1354.1,747.6 L1356.3,747.9 L1358.5,748.3 L1360.7,748.6 L1362.9,748.9 L1365.1,749.3 L1367.3,749.6 L1369.5,750.0 L1371.7,750.3 L1373.9,750.6 L1376.1,751.0 L1378.3,751.3 L1380.4,751.6 L1382.6,751.9 L1384.8,752.2 L1387.0,752.6 L1389.2,752.9 L1391.4,753.2 L1393.6,753.5 L1395.8,753.8 L1398.0,754.0 L1400.2,754.3 L1402.4,754.6 L1404.6,754.9 L1406.8,755.2 L1409.0,755.5 L1411.2,755.7 L1413.4,756.0 L1415.6,756.3 L1417.8,756.5 L1420.0,756.8 L1422.2,757.1 L1424.3,757.3 L1426.5,757.6 L1428.7,757.8 L1430.9,758.1 L1433.1,758.4 L1435.3,758.6 L1437.5,758.9 L1439.7,759.1 L1441.9,759.4 L1444.1,759.6 L1446.3,759.9 L1448.5,760.2 L1450.6,760.4 L1452.8,760.7 L1455.0,760.9 L1457.2,761.2 L1459.4,761.5 L1461.6,761.7 L1463.8,762.0 L1466.0,762.3 L1468.2,762.5 L1470.4,762.8 L1472.6,763.1 L1474.7,763.4 L1476.9,763.6 L1479.1,763.9 L1481.3,764.2 L1483.5,764.5 L1485.7,764.8 L1487.9,765.1 L1490.1,765.4 L1492.3,765.7 L1494.5,766.0 L1496.7,766.3 L1498.8,766.6 L1501.0,766.9 L1503.2,767.2 L1505.4,767.5 L1507.6,767.8 L1509.8,768.1 L1512.0,768.4 L1514.2,768.7 L1516.4,769.0 L1518.6,769.3 L1520.7,769.6 L1522.9,769.9 L1525.1,770.2 L1527.3,770.5 L1529.5,770.9 L1531.7,771.2 L1533.9,771.5 L1536.1,771.8 L1538.3,772.1 L1540.4,772.4 L1542.6,772.7 L1544.8,773.0 L1547.0,773.4 L1549.2,773.7 L1551.4,774.0 L1553.6,774.3 L1555.8,774.6 L1558.0,774.9 L1560.2,775.2 L1562.3,775.5 L1564.5,775.9 L1566.7,776.2 L1568.9,776.5 L1571.1,776.8 L1573.3,777.1 L1575.5,777.4 L1577.7,777.7 L1579.9,778.0 L1582.1,778.3 L1584.2,778.6 L1586.4,778.9 L1588.6,779.2 L1590.8,779.5 L1593.0,779.8 L1595.2,780.1 L1597.4,780.4 L1599.6,780.7 L1601.8,781.0 L1604.0,781.3 L1606.1,781.6 L1608.3,781.9 L1610.5,782.2 L1612.7,782.5 L1614.9,782.8 L1617.1,783.1 L1619.3,783.4 L1621.5,783.7 L1623.7,784.0 L1625.9,784.3 L1628.0,784.6 L1630.2,784.9 L1632.4,785.2 L1634.6,785.5 L1636.8,785.8 L1639.0,786.1 L1641.2,786.4 L1643.4,786.7 L1645.6,786.9 L1647.8,787.2 L1650.0,787.5 L1652.1,787.8 L1654.3,788.1 L1656.5,788.4 L1658.7,788.7 L1660.9,789.0 L1663.1,789.3 L1665.3,789.6 L1667.5,789.8 L1669.7,790.1 L1671.9,790.4 L1674.1,790.7 L1676.3,791.0 L1678.4,791.3 L1680.6,791.6 L1682.8,791.9 L1685.0,792.1 L1687.2,792.4 L1689.4,792.7 L1691.6,793.0"/>
<path class="c" stroke="#30a964" d="M242.8,796.7 L245.0,797.1 L247.1,797.4 L249.3,797.8 L251.4,798.2 L253.6,798.5 L255.7,798.9 L257.9,799.3 L260.0,799.6 L262.2,800.0 L264.3,800.3 L266.5,800.6 L268.6,801.0 L270.8,801.3 L272.9,801.6 L275.1,802.0 L277.3,802.3 L279.4,802.6 L281.6,802.9 L283.7,803.2 L285.9,803.5 L288.1,803.8 L290.2,804.1 L292.4,804.4 L294.5,804.7 L296.7,805.0 L298.9,805.3 L301.0,805.6 L303.2,805.9 L305.4,806.2 L307.5,806.5 L309.7,806.7 L311.9,807.0 L314.0,807.3 L316.2,807.6 L318.4,807.8 L320.5,808.1 L322.7,808.3 L324.9,808.6 L327.0,808.9 L329.2,809.1 L331.4,809.4 L333.5,809.6 L335.7,809.9 L337.9,810.1 L340.1,810.4 L342.2,810.6 L344.4,810.9 L346.6,811.1 L348.7,811.4 L350.9,811.6 L353.1,811.8 L355.3,812.1 L357.4,812.3 L359.6,812.5 L361.8,812.8 L363.9,813.0 L366.1,813.3 L368.3,813.5 L370.5,813.7 L372.6,813.9 L374.8,814.2 L377.0,814.4 L379.2,814.6 L381.3,814.9 L383.5,815.1 L385.7,815.3 L387.9,815.5 L390.0,815.8 L392.2,816.0 L394.4,816.2 L396.6,816.4 L398.7,816.7 L400.9,816.9 L403.1,817.1 L405.3,817.4 L407.4,817.6 L409.6,817.8 L411.8,818.0 L414.0,818.3 L416.1,818.5 L418.3,818.7 L420.5,819.0 L422.6,819.2 L424.8,819.4 L427.0,819.7 L429.2,819.9 L431.3,820.1 L433.5,820.4 L435.7,820.6 L437.9,820.8 L440.0,821.1 L442.2,821.3 L444.4,821.6 L446.5,821.8 L448.7,822.0 L450.9,822.3 L453.1,822.5 L455.2,822.8 L457.4,823.0 L459.6,823.3 L461.7,823.6 L463.9,823.8 L466.1,824.1 L468.2,824.3 L470.4,824.6 L472.6,824.9 L474.7,825.1 L476.9,825.4 L479.1,825.7 L481.2,825.9 L483.4,826.2 L485.6,826.5 L487.7,826.8 L489.9,827.1 L492.0,827.4 L494.2,827.6 L496.4,827.9 L498.5,828.2 L500.7,828.5 L502.9,828.8 L505.0,829.1 L507.2,829.4 L509.3,829.8 L511.5,830.1 L513.6,830.4 L515.8,830.7 L518.0,831.0 L520.1,831.3 L522.3,831.7 L524.4,832.0 L526.6,832.3 L528.7,832.6 L530.9,833.0 L533.1,833.3 L535.2,833.6 L537.4,834.0 L539.5,834.3 L541.7,834.7 L543.8,835.0 L546.0,835.4 L548.1,835.7 L550.3,836.1 L552.4,836.4 L554.6,836.8 L556.7,837.2 L558.9,837.5 L561.0,837.9 L563.2,838.2 L565.3,838.6 L567.5,839.0 L569.6,839.4 L571.8,839.7 L573.9,840.1 L576.1,840.5 L578.2,840.9 L580.4,841.3 L582.5,841.6 L584.6,842.0 L586.8,842.4 L588.9,842.8 L591.1,843.2 L593.2,843.6 L595.4,844.0 L597.5,844.4 L599.7,844.8 L601.8,845.2 L604.0,845.6 L606.1,846.0 L608.2,846.4 L610.4,846.9 L612.5,847.3 L614.7,847.7 L616.8,848.1 L618.9,848.5 L621.1,848.9 L623.2,849.4 L625.4,849.8 L627.5,850.2 L629.7,850.6 L631.8,851.1 L633.9,851.5 L636.1,851.9 L638.2,852.4 L640.4,852.8 L642.5,853.3 L644.6,853.7 L646.8,854.1 L648.9,854.6 L651.1,855.0 L653.2,855.5 L655.3,855.9 L657.5,856.4 L659.6,856.8 L661.7,857.3 L663.9,857.7 L666.0,858.2 L668.2,858.6 L670.3,859.1 L672.4,859.6 L674.6,860.0 L676.7,860.5 L678.8,861.0 L681.0,861.4 L683.1,861.9 L685.3,862.4 L687.4,862.8 L689.5,863.3 L691.7,863.8 L693.8,864.3 L695.9,864.7 L698.1,865.2 L700.2,865.7 L702.3,866.2 L704.5,866.7 L706.6,867.2 L708.7,867.6 L710.9,868.1 L713.0,868.6 L715.1,869.1 L717.3,869.6 L719.4,870.1 L721.5,870.6 L723.7,871.1 L725.8,871.7 L727.9,872.2 L730.0,872.7 L732.2,873.2 L734.3,873.7 L736.4,874.3 L738.5,874.8 L740.7,875.3 L742.8,875.9 L744.9,876.4 L747.0,877.0 L749.1,877.5 L751.3,878.1 L753.4,878.6 L755.5,879.2 L757.6,879.7 L759.7,880.3 L761.8,880.9 L763.9,881.5 L766.0,882.0 L768.1,882.6 L770.2,883.2 L772.3,883.8 L774.4,884.4 L776.5,885.0 L778.6,885.6 L780.7,886.2 L782.8,886.9 L784.9,887.5 L787.0,888.1 L789.1,888.8 L791.2,889.4 L793.2,890.1 L795.3,890.7 L797.4,891.4 L799.5,892.0 L801.5,892.7 L803.6,893.4 L805.7,894.1 L807.8,894.7 L809.8,895.4 L811.9,896.1 L813.9,896.9 L816.0,897.6 L818.1,898.3 L820.1,899.0 L822.2,899.7 L824.2,900.5 L826.3,901.2 L828.3,902.0 L830.3,902.7 L832.4,903.5 L834.4,904.3 L836.4,905.1 L838.5,905.9 L840.5,906.7 L842.5,907.5 L844.5,908.3 L846.5,909.1 L848.6,909.9 L850.6,910.8 L852.6,911.6 L854.6,912.5 L856.6,913.3 L858.6,914.2 L860.6,915.1 L862.6,915.9 L864.6,916.8 L866.5,917.7 L868.5,918.6 L870.5,919.6 L872.5,920.5 L874.4,921.4 L876.4,922.4 L878.4,923.3 L880.3,924.3 L882.3,925.2 L884.2,926.2 L886.2,927.2 L888.1,928.2 L890.1,929.2 L892.0,930.2 L893.9,931.3 L895.9,932.3 L897.8,933.3 L899.7,934.4 L901.6,935.5 L903.5,936.5 L905.4,937.6 L907.4,938.7 L909.3,939.8 L911.1,940.9 L913.0,942.0 L914.9,943.2 L916.8,944.3 L918.7,945.4 L920.6,946.5 L922.5,947.6 L924.4,948.7 L926.3,949.8 L928.2,950.9 L930.1,951.9 L931.9,953.0 L933.8,954.1 L935.7,955.1 L937.6,956.2 L939.5,957.3 L941.4,958.3 L943.3,959.4 L945.1,960.5 L947.0,961.7 L948.9,962.8 L950.7,963.9 L952.6,965.1 L954.4,966.3 L956.3,967.5 L958.1,968.7 L959.9,969.9 L961.8,971.2 L963.6,972.4 L965.5,973.6 L967.4,974.7 L969.2,975.9 L971.1,977.0 L973.0,978.1 L974.9,979.2 L976.8,980.2 L978.8,981.2 L980.7,982.2 L982.7,983.1 L984.7,984.0 L986.6,984.9 L988.6,985.7 L990.6,986.5 L992.7,987.3 L994.7,988.0 L996.7,988.7 L998.8,989.4 L1000.8,990.1 L1002.9,990.8 L1005.0,991.4 L1007.1,992.0 L1009.2,992.6 L1011.3,993.2 L1013.4,993.8 L1015.5,994.3 L1017.6,994.9 L1019.7,995.4 L1021.8,995.9 L1023.9,996.4 L1026.1,996.9 L1028.2,997.4 L1030.4,997.9 L1032.5,998.4 L1034.6,998.8 L1036.8,999.3 L1038.9,999.8 L1041.1,1000.3 L1043.2,1000.7 L1045.3,1001.2 L1047.5,1001.7 L1049.6,1002.2 L1051.8,1002.7 L1053.9,1003.2 L1056.0,1003.6 L1058.2,1004.1 L1060.3,1004.6 L1062.5,1005.0 L1064.6,1005.5 L1066.8,1005.9 L1068.9,1006.3 L1071.0,1006.7 L1073.2,1007.1 L1075.4,1007.5 L1077.5,1007.8 L1079.7,1008.1 L1081.8,1008.4 L1084.0,1008.7 L1086.2,1008.9 L1088.3,1009.2 L1090.5,1009.3 L1092.7,1009.5 L1094.9,1009.6 L1097.0,1009.7 L1099.2,1009.7 L1101.4,1009.8 L1103.6,1009.7 L1105.8,1009.6 L1108.0,1009.5 L1110.2,1009.3 L1112.4,1009.1 L1114.6,1008.8 L1116.8,1008.4 L1118.9,1008.0 L1121.0,1007.4 L1123.0,1006.8 L1125.0,1006.1 L1127.0,1005.3 L1128.9,1004.4 L1130.8,1003.4 L1132.6,1002.3 L1134.4,1001.1 L1136.1,999.8 L1137.7,998.5 L1139.4,997.1 L1141.0,995.6 L1142.6,994.1 L1144.1,992.5 L1145.7,991.0 L1147.2,989.3 L1148.6,987.7 L1150.1,986.1 L1151.6,984.4 L1153.0,982.8 L1154.5,981.1 L1155.9,979.5 L1157.3,977.8 L1158.8,976.2 L1160.2,974.5 L1161.6,972.8 L1163.0,971.2 L1164.4,969.5 L1165.8,967.8 L1167.1,966.1 L1168.5,964.4 L1169.9,962.8 L1171.3,961.1 L1172.6,959.4 L1174.0,957.6 L1175.3,955.9 L1176.7,954.2 L1178.1,952.5 L1179.4,950.8 L1180.8,949.0 L1182.2,947.3 L1183.6,945.6 L1185.0,943.9 L1186.4,942.2 L1187.8,940.6 L1189.2,938.9 L1190.7,937.3 L1192.2,935.7 L1193.7,934.1 L1195.2,932.5 L1196.7,931.0 L1198.3,929.5 L1199.9,928.1 L1201.6,926.7 L1203.2,925.3 L1205.0,924.0 L1206.7,922.7 L1208.5,921.5 L1210.3,920.3 L1212.1,919.2 L1214.0,918.1 L1215.9,917.1 L1217.9,916.1 L1219.8,915.2 L1221.8,914.3 L1223.9,913.5 L1225.9,912.7 L1228.0,912.0 L1230.1,911.3 L1232.2,910.6 L1234.3,910.0 L1236.4,909.5 L1238.6,909.0 L1240.7,908.5 L1242.9,908.0 L1245.1,907.6 L1247.2,907.2 L1249.4,906.8 L1251.5,906.5 L1253.7,906.2 L1255.9,906.0 L1258.0,905.7 L1260.2,905.5 L1262.4,905.3 L1264.6,905.1 L1266.7,905.0 L1268.9,904.8 L1271.1,904.7 L1273.3,904.7 L1275.4,904.6 L1277.6,904.5 L1279.8,904.5 L1282.0,904.5 L1284.1,904.5 L1286.3,904.5 L1288.5,904.5 L1290.7,904.6 L1292.9,904.6 L1295.0,904.7 L1297.2,904.8 L1299.4,904.9 L1301.6,904.9 L1303.8,905.0 L1305.9,905.1 L1308.1,905.2 L1310.3,905.3 L1312.5,905.5 L1314.7,905.6 L1316.9,905.7 L1319.0,905.8 L1321.2,905.9 L1323.4,906.1 L1325.6,906.2 L1327.7,906.3 L1329.9,906.5 L1332.1,906.6 L1334.3,906.7 L1336.5,906.9 L1338.6,907.0 L1340.8,907.2 L1343.0,907.3 L1345.2,907.5 L1347.3,907.6 L1349.5,907.8 L1351.7,907.9 L1353.9,908.1 L1356.1,908.2 L1358.2,908.4 L1360.4,908.6 L1362.6,908.7 L1364.8,908.9 L1366.9,909.1 L1369.1,909.3 L1371.3,909.4 L1373.5,909.6 L1375.6,909.8 L1377.8,910.0 L1380.0,910.2 L1382.2,910.4 L1384.3,910.6 L1386.5,910.7 L1388.7,910.9 L1390.9,911.1 L1393.0,911.3 L1395.2,911.5 L1397.4,911.7 L1399.6,911.9 L1401.7,912.1 L1403.9,912.3 L1406.1,912.5 L1408.2,912.8 L1410.4,913.0 L1412.6,913.2 L1414.8,913.4 L1416.9,913.6 L1419.1,913.8 L1421.3,914.0 L1423.5,914.3 L1425.6,914.5 L1427.8,914.7 L1430.0,914.9 L1432.1,915.1 L1434.3,915.4 L1436.5,915.6 L1438.7,915.8 L1440.8,916.1 L1443.0,916.3 L1445.2,916.5 L1447.3,916.7 L1449.5,917.0 L1451.7,917.2 L1453.9,917.4 L1456.0,917.7 L1458.2,917.9 L1460.4,918.2 L1462.5,918.4 L1464.7,918.6 L1466.9,918.9 L1469.1,919.1 L1471.2,919.4 L1473.4,919.6 L1475.6,919.8 L1477.7,920.1 L1479.9,920.3 L1482.1,920.6 L1484.2,920.8 L1486.4,921.1 L1488.6,921.3 L1490.8,921.6 L1492.9,921.8 L1495.1,922.1 L1497.3,922.3 L1499.4,922.6 L1501.6,922.8 L1503.8,923.1 L1505.9,923.3 L1508.1,923.6 L1510.3,923.8 L1512.5,924.1 L1514.6,924.3 L1516.8,924.6 L1519.0,924.8 L1521.1,925.1 L1523.3,925.3 L1525.5,925.6 L1527.6,925.8 L1529.8,926.1 L1532.0,926.3 L1534.2,926.6 L1536.3,926.8 L1538.5,927.1 L1540.7,927.3 L1542.8,927.6 L1545.0,927.8 L1547.2,928.1 L1549.3,928.3 L1551.5,928.6 L1553.7,928.8 L1555.9,929.1 L1558.0,929.3 L1560.2,929.5 L1562.4,929.8 L1564.5,930.0 L1566.7,930.3 L1568.9,930.5 L1571.0,930.8 L1573.2,931.0 L1575.4,931.3 L1577.6,931.5 L1579.7,931.7 L1581.9,932.0 L1584.1,932.2 L1586.2,932.5 L1588.4,932.7 L1590.6,932.9 L1592.8,933.2 L1594.9,933.4 L1597.1,933.6 L1599.3,933.9 L1601.4,934.1 L1603.6,934.3 L1605.8,934.6 L1607.9,934.8 L1610.1,935.0 L1612.3,935.3 L1614.5,935.5 L1616.6,935.7 L1618.8,935.9 L1621.0,936.2 L1623.2,936.4 L1625.3,936.6 L1627.5,936.8 L1629.7,937.0 L1631.8,937.3 L1634.0,937.5 L1636.2,937.7 L1638.4,937.9 L1640.5,938.1 L1642.7,938.3 L1644.9,938.5 L1647.1,938.7 L1649.2,938.9 L1651.4,939.1 L1653.6,939.3 L1655.7,939.5 L1657.9,939.7 L1660.1,939.9 L1662.3,940.1 L1664.4,940.3 L1666.6,940.5 L1668.8,940.7 L1671.0,940.9 L1673.1,941.0 L1675.3,941.2 L1677.5,941.4 L1679.7,941.6 L1681.8,941.7 L1684.0,941.9 L1686.2,942.1 L1688.4,942.3 L1690.5,942.4 L1692.7,942.6"/>
<path class="c" stroke="#a56ce0" d="M242.8,904.5 L244.9,905.0 L247.1,905.4 L249.2,905.9 L251.3,906.4 L253.4,906.8 L255.5,907.3 L257.7,907.7 L259.8,908.1 L261.9,908.6 L264.0,909.0 L266.2,909.5 L268.3,909.9 L270.4,910.3 L272.5,910.7 L274.7,911.2 L276.8,911.6 L278.9,912.0 L281.0,912.4 L283.2,912.8 L285.3,913.2 L287.4,913.6 L289.6,914.1 L291.7,914.5 L293.8,914.9 L296.0,915.3 L298.1,915.7 L300.2,916.0 L302.4,916.4 L304.5,916.8 L306.6,917.2 L308.8,917.6 L310.9,918.0 L313.0,918.4 L315.2,918.8 L317.3,919.1 L319.5,919.5 L321.6,919.9 L323.7,920.3 L325.9,920.6 L328.0,921.0 L330.1,921.4 L332.3,921.7 L334.4,922.1 L336.6,922.5 L338.7,922.8 L340.8,923.2 L343.0,923.6 L345.1,923.9 L347.3,924.3 L349.4,924.6 L351.5,925.0 L353.7,925.4 L355.8,925.7 L358.0,926.1 L360.1,926.4 L362.3,926.8 L364.4,927.1 L366.5,927.5 L368.7,927.9 L370.8,928.2 L373.0,928.6 L375.1,928.9 L377.2,929.3 L379.4,929.6 L381.5,930.0 L383.7,930.3 L385.8,930.7 L388.0,931.0 L390.1,931.4 L392.2,931.7 L394.4,932.1 L396.5,932.4 L398.7,932.8 L400.8,933.1 L403.0,933.5 L405.1,933.8 L407.2,934.2 L409.4,934.5 L411.5,934.9 L413.7,935.3 L415.8,935.6 L418.0,936.0 L420.1,936.3 L422.2,936.7 L424.4,937.0 L426.5,937.4 L428.7,937.8 L430.8,938.1 L432.9,938.5 L435.1,938.9 L437.2,939.2 L439.4,939.6 L441.5,940.0 L443.6,940.3 L445.8,940.7 L447.9,941.1 L450.0,941.4 L452.2,941.8 L454.3,942.2 L456.5,942.6 L458.6,942.9 L460.7,943.3 L462.9,943.7 L465.0,944.1 L467.1,944.5 L469.3,944.9 L471.4,945.3 L473.5,945.7 L475.7,946.1 L477.8,946.4 L479.9,946.8 L482.1,947.2 L484.2,947.7 L486.3,948.1 L488.5,948.5 L490.6,948.9 L492.7,949.3 L494.8,949.7 L497.0,950.1 L499.1,950.5 L501.2,951.0 L503.4,951.4 L505.5,951.8 L507.6,952.3 L509.7,952.7 L511.9,953.1 L514.0,953.6 L516.1,954.0 L518.2,954.4 L520.3,954.9 L522.5,955.3 L524.6,955.8 L526.7,956.2 L528.8,956.7 L531.0,957.1 L533.1,957.6 L535.2,958.0 L537.3,958.5 L539.4,959.0 L541.5,959.4 L543.7,959.9 L545.8,960.4 L547.9,960.8 L550.0,961.3 L552.1,961.8 L554.2,962.3 L556.4,962.7 L558.5,963.2 L560.6,963.7 L562.7,964.2 L564.8,964.7 L566.9,965.2 L569.0,965.6 L571.2,966.1 L573.3,966.6 L575.4,967.1 L577.5,967.6 L579.6,968.1 L581.7,968.6 L583.8,969.1 L585.9,969.6 L588.0,970.1 L590.1,970.6 L592.2,971.1 L594.4,971.7 L596.5,972.2 L598.6,972.7 L600.7,973.2 L602.8,973.7 L604.9,974.2 L607.0,974.8 L609.1,975.3 L611.2,975.8 L613.3,976.3 L615.4,976.9 L617.5,977.4 L619.6,977.9 L621.7,978.4 L623.8,979.0 L625.9,979.5 L628.0,980.1 L630.1,980.6 L632.2,981.1 L634.3,981.7 L636.4,982.2 L638.5,982.8 L640.6,983.3 L642.7,983.8 L644.8,984.4 L646.9,984.9 L649.0,985.5 L651.1,986.0 L653.2,986.6 L655.3,987.2 L657.4,987.7 L659.5,988.3 L661.6,988.8 L663.7,989.4 L665.8,989.9 L667.9,990.5 L670.0,991.1 L672.1,991.6 L674.2,992.2 L676.3,992.8 L678.4,993.3 L680.5,993.9 L682.6,994.5 L684.7,995.0 L686.8,995.6 L688.9,996.2 L691.0,996.8 L693.1,997.3 L695.2,997.9 L697.3,998.5 L699.3,999.1 L701.4,999.6 L703.5,1000.2 L705.6,1000.8 L707.7,1001.4 L709.8,1002.0 L711.9,1002.6 L714.0,1003.2 L716.1,1003.8 L718.2,1004.4 L720.2,1005.0 L722.3,1005.6 L724.4,1006.2 L726.5,1006.8 L728.6,1007.4 L730.7,1008.0 L732.8,1008.6 L734.8,1009.2 L736.9,1009.8 L739.0,1010.4 L741.1,1011.1 L743.2,1011.7 L745.2,1012.3 L747.3,1012.9 L749.4,1013.6 L751.5,1014.2 L753.5,1014.8 L755.6,1015.5 L757.7,1016.1 L759.8,1016.8 L761.8,1017.4 L763.9,1018.1 L766.0,1018.7 L768.0,1019.4 L770.1,1020.1 L772.2,1020.7 L774.2,1021.4 L776.3,1022.1 L778.3,1022.8 L780.4,1023.5 L782.4,1024.1 L784.5,1024.8 L786.6,1025.5 L788.6,1026.2 L790.7,1026.9 L792.7,1027.6 L794.8,1028.4 L796.8,1029.1 L798.8,1029.8 L800.9,1030.5 L802.9,1031.3 L805.0,1032.0 L807.0,1032.7 L809.0,1033.5 L811.1,1034.2 L813.1,1035.0 L815.1,1035.7 L817.2,1036.5 L819.2,1037.3 L821.2,1038.0 L823.2,1038.8 L825.3,1039.6 L827.3,1040.4 L829.3,1041.2 L831.3,1042.0 L833.3,1042.8 L835.3,1043.6 L837.3,1044.4 L839.3,1045.2 L841.3,1046.1 L843.3,1046.9 L845.3,1047.7 L847.3,1048.6 L849.3,1049.4 L851.3,1050.3 L853.3,1051.2 L855.3,1052.0 L857.3,1052.9 L859.2,1053.8 L861.2,1054.7 L863.2,1055.6 L865.2,1056.5 L867.1,1057.4 L869.1,1058.4 L871.0,1059.3 L873.0,1060.2 L874.9,1061.2 L876.9,1062.2 L878.8,1063.1 L880.7,1064.1 L882.7,1065.1 L884.6,1066.1 L886.5,1067.1 L888.4,1068.1 L890.3,1069.2 L892.2,1070.2 L894.1,1071.3 L896.0,1072.3 L897.9,1073.4 L899.8,1074.5 L901.6,1075.6 L903.5,1076.7 L905.4,1077.8 L907.2,1078.9 L909.1,1080.1 L910.9,1081.2 L912.8,1082.4 L914.6,1083.5 L916.4,1084.7 L918.3,1085.9 L920.1,1087.1 L921.9,1088.3 L923.8,1089.4 L925.6,1090.6 L927.4,1091.8 L929.2,1093.0 L931.0,1094.2 L932.9,1095.4 L934.7,1096.6 L936.5,1097.8 L938.3,1098.9 L940.2,1100.1 L942.0,1101.3 L943.8,1102.5 L945.6,1103.6 L947.5,1104.8 L949.3,1105.9 L951.2,1107.1 L953.0,1108.2 L954.9,1109.3 L956.7,1110.4 L958.6,1111.5 L960.5,1112.6 L962.4,1113.6 L964.2,1114.7 L966.1,1115.7 L968.0,1116.7 L970.0,1117.7 L971.9,1118.7 L973.8,1119.7 L975.7,1120.6 L977.7,1121.5 L979.7,1122.4 L981.6,1123.3 L983.6,1124.2 L985.6,1125.0 L987.6,1125.9 L989.6,1126.7 L991.6,1127.5 L993.6,1128.3 L995.6,1129.0 L997.6,1129.8 L999.7,1130.5 L1001.7,1131.3 L1003.8,1132.0 L1005.8,1132.7 L1007.9,1133.4 L1009.9,1134.1 L1012.0,1134.8 L1014.1,1135.4 L1016.1,1136.1 L1018.2,1136.8 L1020.3,1137.4 L1022.4,1138.0 L1024.5,1138.7 L1026.6,1139.3 L1028.7,1139.9 L1030.8,1140.5 L1032.9,1141.1 L1035.0,1141.8 L1037.1,1142.4 L1039.2,1143.0 L1041.3,1143.6 L1043.4,1144.2 L1045.5,1144.8 L1047.6,1145.4 L1049.7,1146.0 L1051.8,1146.6 L1053.9,1147.1 L1056.0,1147.7 L1058.1,1148.3 L1060.2,1148.9 L1062.3,1149.4 L1064.4,1149.9 L1066.5,1150.4 L1068.6,1150.9 L1070.8,1151.4 L1072.9,1151.9 L1075.0,1152.3 L1077.1,1152.7 L1079.2,1153.1 L1081.4,1153.4 L1083.5,1153.8 L1085.6,1154.1 L1087.8,1154.3 L1089.9,1154.5 L1092.0,1154.7 L1094.2,1154.9 L1096.3,1155.0 L1098.5,1155.0 L1100.6,1155.1 L1102.8,1155.0 L1105.0,1155.0 L1107.1,1154.9 L1109.3,1154.7 L1111.5,1154.5 L1113.6,1154.2 L1115.8,1153.9 L1117.9,1153.5 L1120.1,1153.1 L1122.2,1152.6 L1124.3,1152.0 L1126.4,1151.5 L1128.4,1150.8 L1130.5,1150.1 L1132.5,1149.3 L1134.5,1148.5 L1136.4,1147.6 L1138.4,1146.7 L1140.3,1145.7 L1142.2,1144.7 L1144.1,1143.6 L1146.0,1142.5 L1147.8,1141.4 L1149.6,1140.2 L1151.4,1138.9 L1153.2,1137.7 L1154.9,1136.4 L1156.6,1135.1 L1158.3,1133.7 L1160.0,1132.3 L1161.7,1130.9 L1163.4,1129.5 L1165.0,1128.1 L1166.7,1126.7 L1168.3,1125.2 L1169.9,1123.8 L1171.6,1122.3 L1173.2,1120.9 L1174.8,1119.5 L1176.5,1118.0 L1178.1,1116.6 L1179.8,1115.2 L1181.5,1113.8 L1183.2,1112.5 L1184.9,1111.1 L1186.6,1109.8 L1188.3,1108.6 L1190.0,1107.3 L1191.8,1106.1 L1193.6,1104.9 L1195.4,1103.7 L1197.2,1102.6 L1199.0,1101.5 L1200.9,1100.4 L1202.8,1099.4 L1204.7,1098.4 L1206.6,1097.5 L1208.6,1096.6 L1210.6,1095.7 L1212.5,1094.9 L1214.6,1094.1 L1216.6,1093.3 L1218.6,1092.6 L1220.7,1091.9 L1222.8,1091.2 L1224.8,1090.5 L1226.9,1089.8 L1229.0,1089.2 L1231.1,1088.5 L1233.2,1087.9 L1235.3,1087.3 L1237.4,1086.8 L1239.6,1086.3 L1241.7,1085.8 L1243.8,1085.3 L1246.0,1084.8 L1248.1,1084.4 L1250.2,1084.1 L1252.4,1083.7 L1254.5,1083.4 L1256.7,1083.1 L1258.8,1082.9 L1261.0,1082.7 L1263.1,1082.5 L1265.3,1082.3 L1267.4,1082.2 L1269.6,1082.1 L1271.8,1082.0 L1273.9,1082.0 L1276.1,1081.9 L1278.2,1081.9 L1280.4,1081.9 L1282.6,1082.0 L1284.7,1082.0 L1286.9,1082.1 L1289.0,1082.1 L1291.2,1082.2 L1293.4,1082.3 L1295.5,1082.5 L1297.7,1082.6 L1299.9,1082.8 L1302.0,1082.9 L1304.2,1083.1 L1306.4,1083.2 L1308.5,1083.4 L1310.7,1083.6 L1312.9,1083.8 L1315.0,1084.0 L1317.2,1084.2 L1319.3,1084.4 L1321.5,1084.6 L1323.7,1084.8 L1325.8,1085.0 L1328.0,1085.3 L1330.1,1085.5 L1332.3,1085.7 L1334.4,1086.0 L1336.6,1086.2 L1338.7,1086.4 L1340.9,1086.7 L1343.1,1086.9 L1345.2,1087.2 L1347.4,1087.5 L1349.5,1087.7 L1351.7,1088.0 L1353.8,1088.3 L1356.0,1088.5 L1358.1,1088.8 L1360.3,1089.1 L1362.4,1089.4 L1364.6,1089.7 L1366.7,1090.0 L1368.9,1090.3 L1371.0,1090.6 L1373.1,1090.9 L1375.3,1091.2 L1377.4,1091.5 L1379.6,1091.8 L1381.7,1092.2 L1383.9,1092.5 L1386.0,1092.8 L1388.2,1093.1 L1390.3,1093.5 L1392.4,1093.8 L1394.6,1094.1 L1396.7,1094.5 L1398.9,1094.8 L1401.0,1095.2 L1403.1,1095.5 L1405.3,1095.9 L1407.4,1096.2 L1409.6,1096.6 L1411.7,1096.9 L1413.8,1097.3 L1416.0,1097.7 L1418.1,1098.0 L1420.3,1098.4 L1422.4,1098.8 L1424.5,1099.2 L1426.7,1099.5 L1428.8,1099.9 L1430.9,1100.3 L1433.1,1100.7 L1435.2,1101.1 L1437.4,1101.4 L1439.5,1101.8 L1441.6,1102.2 L1443.8,1102.6 L1445.9,1103.0 L1448.0,1103.4 L1450.2,1103.8 L1452.3,1104.2 L1454.4,1104.6 L1456.6,1105.0 L1458.7,1105.4 L1460.8,1105.8 L1463.0,1106.2 L1465.1,1106.6 L1467.2,1107.0 L1469.4,1107.4 L1471.5,1107.8 L1473.6,1108.2 L1475.8,1108.7 L1477.9,1109.1 L1480.0,1109.5 L1482.1,1109.9 L1484.3,1110.3 L1486.4,1110.7 L1488.5,1111.1 L1490.7,1111.6 L1492.8,1112.0 L1494.9,1112.4 L1497.1,1112.8 L1499.2,1113.2 L1501.3,1113.7 L1503.5,1114.1 L1505.6,1114.5 L1507.7,1114.9 L1509.9,1115.3 L1512.0,1115.8 L1514.1,1116.2 L1516.2,1116.6 L1518.4,1117.0 L1520.5,1117.5 L1522.6,1117.9 L1524.8,1118.3 L1526.9,1118.7 L1529.0,1119.1 L1531.2,1119.6 L1533.3,1120.0 L1535.4,1120.4 L1537.5,1120.8 L1539.7,1121.2 L1541.8,1121.7 L1543.9,1122.1 L1546.1,1122.5 L1548.2,1122.9 L1550.3,1123.3 L1552.5,1123.7 L1554.6,1124.1 L1556.7,1124.6 L1558.9,1125.0 L1561.0,1125.4 L1563.1,1125.8 L1565.3,1126.2 L1567.4,1126.6 L1569.5,1127.0 L1571.7,1127.4 L1573.8,1127.8 L1575.9,1128.2 L1578.1,1128.6 L1580.2,1129.0 L1582.3,1129.4 L1584.5,1129.8 L1586.6,1130.2 L1588.7,1130.6 L1590.9,1131.0 L1593.0,1131.4 L1595.1,1131.8 L1597.3,1132.2 L1599.4,1132.5 L1601.5,1132.9 L1603.7,1133.3 L1605.8,1133.7 L1607.9,1134.0 L1610.1,1134.4 L1612.2,1134.8 L1614.4,1135.2 L1616.5,1135.5 L1618.6,1135.9 L1620.8,1136.2 L1622.9,1136.6 L1625.1,1137.0 L1627.2,1137.3 L1629.3,1137.7 L1631.5,1138.0 L1633.6,1138.4 L1635.8,1138.7 L1637.9,1139.0 L1640.0,1139.4 L1642.2,1139.7 L1644.3,1140.0 L1646.5,1140.4 L1648.6,1140.7 L1650.8,1141.0 L1652.9,1141.3 L1655.0,1141.6 L1657.2,1142.0 L1659.3,1142.3 L1661.5,1142.6 L1663.6,1142.9 L1665.8,1143.2 L1667.9,1143.5 L1670.1,1143.7 L1672.2,1144.0 L1674.4,1144.3 L1676.5,1144.6 L1678.7,1144.9 L1680.8,1145.1 L1683.0,1145.4 L1685.1,1145.7 L1687.3,1145.9 L1689.4,1146.2 L1691.6,1146.4"/>
<path class="c" stroke="#ca9905" d="M242.9,1071.8 L245.0,1072.1 L247.1,1072.4 L249.1,1072.7 L251.2,1073.0 L253.3,1073.3 L255.4,1073.6 L257.5,1073.8 L259.6,1074.1 L261.6,1074.4 L263.7,1074.7 L265.8,1075.0 L267.9,1075.3 L270.0,1075.6 L272.1,1075.9 L274.2,1076.2 L276.2,1076.5 L278.3,1076.7 L280.4,1077.0 L282.5,1077.3 L284.6,1077.6 L286.7,1077.9 L288.7,1078.2 L290.8,1078.5 L292.9,1078.8 L295.0,1079.1 L297.1,1079.4 L299.2,1079.7 L301.3,1080.0 L303.3,1080.3 L305.4,1080.5 L307.5,1080.8 L309.6,1081.1 L311.7,1081.4 L313.8,1081.7 L315.8,1082.0 L317.9,1082.3 L320.0,1082.6 L322.1,1082.9 L324.2,1083.2 L326.3,1083.5 L328.4,1083.8 L330.4,1084.1 L332.5,1084.4 L334.6,1084.7 L336.7,1085.0 L338.8,1085.3 L340.9,1085.6 L342.9,1085.8 L345.0,1086.1 L347.1,1086.4 L349.2,1086.7 L351.3,1087.0 L353.4,1087.3 L355.5,1087.6 L357.5,1087.9 L359.6,1088.2 L361.7,1088.5 L363.8,1088.8 L365.9,1089.1 L368.0,1089.4 L370.0,1089.7 L372.1,1090.0 L374.2,1090.3 L376.3,1090.6 L378.4,1090.9 L380.5,1091.2 L382.6,1091.5 L384.6,1091.8 L386.7,1092.1 L388.8,1092.4 L390.9,1092.7 L393.0,1093.0 L395.1,1093.3 L397.1,1093.6 L399.2,1093.9 L401.3,1094.2 L403.4,1094.5 L405.5,1094.8 L407.6,1095.1 L409.7,1095.4 L411.7,1095.7 L413.8,1096.0 L415.9,1096.3 L418.0,1096.6 L420.1,1096.9 L422.2,1097.2 L424.2,1097.5 L426.3,1097.8 L428.4,1098.2 L430.5,1098.5 L432.6,1098.8 L434.7,1099.1 L436.8,1099.4 L438.8,1099.7 L440.9,1100.0 L443.0,1100.3 L445.1,1100.6 L447.2,1100.9 L449.3,1101.2 L451.3,1101.5 L453.4,1101.8 L455.5,1102.1 L457.6,1102.4 L459.7,1102.7 L461.8,1103.0 L463.8,1103.4 L465.9,1103.7 L468.0,1104.0 L470.1,1104.3 L472.2,1104.6 L474.3,1104.9 L476.3,1105.2 L478.4,1105.5 L480.5,1105.8 L482.6,1106.1 L484.7,1106.4 L486.8,1106.7 L488.8,1107.1 L490.9,1107.4 L493.0,1107.7 L495.1,1108.0 L497.2,1108.3 L499.3,1108.6 L501.3,1108.9 L503.4,1109.2 L505.5,1109.5 L507.6,1109.9 L509.7,1110.2 L511.8,1110.5 L513.8,1110.8 L515.9,1111.1 L518.0,1111.4 L520.1,1111.7 L522.2,1112.1 L524.3,1112.4 L526.3,1112.7 L528.4,1113.0 L530.5,1113.3 L532.6,1113.6 L534.7,1113.9 L536.8,1114.3 L538.8,1114.6 L540.9,1114.9 L543.0,1115.2 L545.1,1115.5 L547.2,1115.8 L549.3,1116.2 L551.3,1116.5 L553.4,1116.8 L555.5,1117.1 L557.6,1117.4 L559.7,1117.7 L561.7,1118.1 L563.8,1118.4 L565.9,1118.7 L568.0,1119.0 L570.1,1119.3 L572.2,1119.7 L574.2,1120.0 L576.3,1120.3 L578.4,1120.6 L580.5,1121.0 L582.6,1121.3 L584.6,1121.6 L586.7,1121.9 L588.8,1122.2 L590.9,1122.6 L593.0,1122.9 L595.1,1123.2 L597.1,1123.5 L599.2,1123.9 L601.3,1124.2 L603.4,1124.5 L605.5,1124.9 L607.5,1125.2 L609.6,1125.5 L611.7,1125.8 L613.8,1126.2 L615.9,1126.5 L617.9,1126.8 L620.0,1127.2 L622.1,1127.5 L624.2,1127.8 L626.3,1128.2 L628.3,1128.5 L630.4,1128.8 L632.5,1129.2 L634.6,1129.5 L636.7,1129.8 L638.7,1130.2 L640.8,1130.5 L642.9,1130.8 L645.0,1131.2 L647.0,1131.5 L649.1,1131.9 L651.2,1132.2 L653.3,1132.5 L655.4,1132.9 L657.4,1133.2 L659.5,1133.6 L661.6,1133.9 L663.7,1134.3 L665.8,1134.6 L667.8,1134.9 L669.9,1135.3 L672.0,1135.6 L674.1,1136.0 L676.1,1136.3 L678.2,1136.7 L680.3,1137.0 L682.4,1137.4 L684.4,1137.7 L686.5,1138.1 L688.6,1138.4 L690.7,1138.8 L692.7,1139.1 L694.8,1139.5 L696.9,1139.8 L699.0,1140.2 L701.1,1140.6 L703.1,1140.9 L705.2,1141.3 L707.3,1141.6 L709.4,1142.0 L711.4,1142.3 L713.5,1142.7 L715.6,1143.1 L717.6,1143.4 L719.7,1143.8 L721.8,1144.2 L723.9,1144.5 L725.9,1144.9 L728.0,1145.3 L730.1,1145.6 L732.2,1146.0 L734.2,1146.4 L736.3,1146.7 L738.4,1147.1 L740.5,1147.5 L742.5,1147.8 L744.6,1148.2 L746.7,1148.6 L748.7,1149.0 L750.8,1149.3 L752.9,1149.7 L755.0,1150.1 L757.0,1150.4 L759.1,1150.8 L761.2,1151.2 L763.2,1151.6 L765.3,1152.0 L767.4,1152.3 L769.5,1152.7 L771.5,1153.1 L773.6,1153.5 L775.7,1153.9 L777.7,1154.2 L779.8,1154.6 L781.9,1155.0 L784.0,1155.4 L786.0,1155.8 L788.1,1156.2 L790.2,1156.5 L792.2,1156.9 L794.3,1157.3 L796.4,1157.7 L798.4,1158.1 L800.5,1158.5 L802.6,1158.9 L804.7,1159.3 L806.7,1159.6 L808.8,1160.0 L810.9,1160.4 L812.9,1160.8 L815.0,1161.2 L817.1,1161.6 L819.1,1162.0 L821.2,1162.4 L823.3,1162.8 L825.3,1163.2 L827.4,1163.6 L829.5,1163.9 L831.5,1164.3 L833.6,1164.7 L835.7,1165.1 L837.8,1165.5 L839.8,1165.9 L841.9,1166.3 L844.0,1166.7 L846.0,1167.1 L848.1,1167.5 L850.2,1167.9 L852.2,1168.3 L854.3,1168.7 L856.4,1169.1 L858.4,1169.5 L860.5,1169.9 L862.6,1170.3 L864.6,1170.7 L866.7,1171.1 L868.8,1171.5 L870.8,1171.9 L872.9,1172.3 L875.0,1172.7 L877.0,1173.1 L879.1,1173.5 L881.2,1173.9 L883.2,1174.3 L885.3,1174.7 L887.4,1175.1 L889.4,1175.5 L891.5,1175.9 L893.6,1176.3 L895.6,1176.7 L897.7,1177.1 L899.8,1177.5 L901.8,1177.9 L903.9,1178.3 L906.0,1178.7 L908.0,1179.1 L910.1,1179.5 L912.2,1179.9 L914.2,1180.3 L916.3,1180.7 L918.4,1181.2 L920.4,1181.6 L922.5,1182.0 L924.6,1182.4 L926.6,1182.8 L928.7,1183.2 L930.8,1183.6 L932.8,1184.0 L934.9,1184.4 L937.0,1184.8 L939.0,1185.2 L941.1,1185.6 L943.2,1186.0 L945.2,1186.4 L947.3,1186.8 L949.4,1187.2 L951.4,1187.6 L953.5,1188.0 L955.6,1188.4 L957.6,1188.8 L959.7,1189.2 L961.8,1189.6 L963.8,1190.1 L965.9,1190.5 L968.0,1190.9 L970.0,1191.3 L972.1,1191.7 L974.2,1192.1 L976.2,1192.5 L978.3,1192.9 L980.4,1193.3 L982.4,1193.7 L984.5,1194.1 L986.6,1194.5 L988.6,1194.9 L990.7,1195.3 L992.8,1195.7 L994.8,1196.1 L996.9,1196.5 L999.0,1196.9 L1001.0,1197.3 L1003.1,1197.7 L1005.2,1198.1 L1007.2,1198.5 L1009.3,1198.9 L1011.4,1199.3 L1013.4,1199.7 L1015.5,1200.1 L1017.6,1200.5 L1019.6,1200.9 L1021.7,1201.3 L1023.8,1201.7 L1025.8,1202.1 L1027.9,1202.5 L1030.0,1202.9 L1032.1,1203.3 L1034.1,1203.7 L1036.2,1204.1 L1038.3,1204.5 L1040.3,1204.9 L1042.4,1205.3 L1044.5,1205.7 L1046.5,1206.1 L1048.6,1206.5 L1050.7,1206.9 L1052.7,1207.3 L1054.8,1207.7 L1056.9,1208.1 L1058.9,1208.5 L1061.0,1208.9 L1063.1,1209.3 L1065.1,1209.6 L1067.2,1210.0 L1069.3,1210.4 L1071.4,1210.8 L1073.4,1211.2 L1075.5,1211.6 L1077.6,1212.0 L1079.6,1212.4 L1081.7,1212.8 L1083.8,1213.2 L1085.8,1213.6 L1087.9,1213.9 L1090.0,1214.3 L1092.0,1214.7 L1094.1,1215.1 L1096.2,1215.5 L1098.3,1215.9 L1100.3,1216.3 L1102.4,1216.7 L1104.5,1217.1 L1106.5,1217.4 L1108.6,1217.8 L1110.7,1218.2 L1112.7,1218.6 L1114.8,1219.0 L1116.9,1219.4 L1119.0,1219.8 L1121.0,1220.1 L1123.1,1220.5 L1125.2,1220.9 L1127.2,1221.3 L1129.3,1221.7 L1131.4,1222.1 L1133.5,1222.4 L1135.5,1222.8 L1137.6,1223.2 L1139.7,1223.6 L1141.7,1224.0 L1143.8,1224.4 L1145.9,1224.7 L1148.0,1225.1 L1150.0,1225.5 L1152.1,1225.9 L1154.2,1226.3 L1156.2,1226.6 L1158.3,1227.0 L1160.4,1227.4 L1162.5,1227.8 L1164.5,1228.2 L1166.6,1228.6 L1168.7,1228.9 L1170.7,1229.3 L1172.8,1229.7 L1174.9,1230.1 L1177.0,1230.4 L1179.0,1230.8 L1181.1,1231.2 L1183.2,1231.6 L1185.2,1232.0 L1187.3,1232.3 L1189.4,1232.7 L1191.5,1233.1 L1193.5,1233.5 L1195.6,1233.8 L1197.7,1234.2 L1199.7,1234.6 L1201.8,1235.0 L1203.9,1235.4 L1206.0,1235.7 L1208.0,1236.1 L1210.1,1236.5 L1212.2,1236.9 L1214.2,1237.2 L1216.3,1237.6 L1218.4,1238.0 L1220.5,1238.4 L1222.5,1238.7 L1224.6,1239.1 L1226.7,1239.5 L1228.8,1239.9 L1230.8,1240.2 L1232.9,1240.6 L1235.0,1241.0 L1237.0,1241.4 L1239.1,1241.7 L1241.2,1242.1 L1243.3,1242.5 L1245.3,1242.9 L1247.4,1243.2 L1249.5,1243.6 L1251.6,1244.0 L1253.6,1244.4 L1255.7,1244.7 L1257.8,1245.1 L1259.8,1245.5 L1261.9,1245.8 L1264.0,1246.2 L1266.1,1246.6 L1268.1,1247.0 L1270.2,1247.3 L1272.3,1247.7 L1274.4,1248.1 L1276.4,1248.5 L1278.5,1248.8 L1280.6,1249.2 L1282.6,1249.6 L1284.7,1250.0 L1286.8,1250.3 L1288.9,1250.7 L1290.9,1251.1 L1293.0,1251.4 L1295.1,1251.8 L1297.2,1252.2 L1299.2,1252.6 L1301.3,1252.9 L1303.4,1253.3 L1305.5,1253.7 L1307.5,1254.0 L1309.6,1254.4 L1311.7,1254.8 L1313.7,1255.2 L1315.8,1255.5 L1317.9,1255.9 L1320.0,1256.3 L1322.0,1256.7 L1324.1,1257.0 L1326.2,1257.4 L1328.3,1257.8 L1330.3,1258.1 L1332.4,1258.5 L1334.5,1258.9 L1336.5,1259.3 L1338.6,1259.6 L1340.7,1260.0 L1342.8,1260.4 L1344.8,1260.7 L1346.9,1261.1 L1349.0,1261.5 L1351.1,1261.9 L1353.1,1262.2 L1355.2,1262.6 L1357.3,1263.0 L1359.4,1263.4 L1361.4,1263.7 L1363.5,1264.1 L1365.6,1264.5 L1367.6,1264.8 L1369.7,1265.2 L1371.8,1265.6 L1373.9,1266.0 L1375.9,1266.3 L1378.0,1266.7 L1380.1,1267.1 L1382.2,1267.5 L1384.2,1267.8 L1386.3,1268.2 L1388.4,1268.6 L1390.4,1269.0 L1392.5,1269.3 L1394.6,1269.7 L1396.7,1270.1 L1398.7,1270.5 L1400.8,1270.8 L1402.9,1271.2 L1405.0,1271.6 L1407.0,1271.9 L1409.1,1272.3 L1411.2,1272.7 L1413.2,1273.1 L1415.3,1273.4 L1417.4,1273.8 L1419.5,1274.2 L1421.5,1274.6 L1423.6,1275.0 L1425.7,1275.3 L1427.8,1275.7 L1429.8,1276.1 L1431.9,1276.5 L1434.0,1276.8 L1436.0,1277.2 L1438.1,1277.6 L1440.2,1278.0 L1442.3,1278.3 L1444.3,1278.7 L1446.4,1279.1 L1448.5,1279.5 L1450.5,1279.8 L1452.6,1280.2 L1454.7,1280.6 L1456.8,1281.0 L1458.8,1281.4 L1460.9,1281.7 L1463.0,1282.1 L1465.1,1282.5 L1467.1,1282.9 L1469.2,1283.3 L1471.3,1283.6 L1473.3,1284.0 L1475.4,1284.4 L1477.5,1284.8 L1479.6,1285.2 L1481.6,1285.5 L1483.7,1285.9 L1485.8,1286.3 L1487.8,1286.7 L1489.9,1287.1 L1492.0,1287.4 L1494.1,1287.8 L1496.1,1288.2 L1498.2,1288.6 L1500.3,1289.0 L1502.3,1289.3 L1504.4,1289.7 L1506.5,1290.1 L1508.5,1290.5 L1510.6,1290.9 L1512.7,1291.3 L1514.8,1291.7 L1516.8,1292.0 L1518.9,1292.4 L1521.0,1292.8 L1523.0,1293.2 L1525.1,1293.6 L1527.2,1294.0 L1529.3,1294.3 L1531.3,1294.7 L1533.4,1295.1 L1535.5,1295.5 L1537.5,1295.9 L1539.6,1296.3 L1541.7,1296.7 L1543.7,1297.1 L1545.8,1297.4 L1547.9,1297.8 L1550.0,1298.2 L1552.0,1298.6 L1554.1,1299.0 L1556.2,1299.4 L1558.2,1299.8 L1560.3,1300.2 L1562.4,1300.6 L1564.4,1301.0 L1566.5,1301.3 L1568.6,1301.7 L1570.6,1302.1 L1572.7,1302.5 L1574.8,1302.9 L1576.9,1303.3 L1578.9,1303.7 L1581.0,1304.1 L1583.1,1304.5 L1585.1,1304.9 L1587.2,1305.3 L1589.3,1305.7 L1591.3,1306.1 L1593.4,1306.5 L1595.5,1306.9 L1597.5,1307.3 L1599.6,1307.7 L1601.7,1308.1 L1603.7,1308.5 L1605.8,1308.8 L1607.9,1309.2 L1609.9,1309.6 L1612.0,1310.0 L1614.1,1310.4 L1616.2,1310.8 L1618.2,1311.2 L1620.3,1311.6 L1622.4,1312.0 L1624.4,1312.4 L1626.5,1312.9 L1628.6,1313.3 L1630.6,1313.7 L1632.7,1314.1 L1634.8,1314.5 L1636.8,1314.9 L1638.9,1315.3 L1641.0,1315.7 L1643.0,1316.1 L1645.1,1316.5 L1647.2,1316.9 L1649.2,1317.3 L1651.3,1317.7 L1653.4,1318.1 L1655.4,1318.5 L1657.5,1318.9 L1659.6,1319.3 L1661.6,1319.7 L1663.7,1320.2 L1665.7,1320.6 L1667.8,1321.0 L1669.9,1321.4 L1671.9,1321.8 L1674.0,1322.2 L1676.1,1322.6 L1678.1,1323.0 L1680.2,1323.5 L1682.3,1323.9 L1684.3,1324.3 L1686.4,1324.7 L1688.5,1325.1 L1690.5,1325.5 L1692.6,1325.9"/>
</g>
<g class="lbl">
<text transform="translate(243.48,116.80) scale(0.9448,1)">S-PPR</text>
<text transform="translate(242.14,423.30) scale(0.9119,1)">S-1</text>
<text transform="translate(241.87,582.80) scale(0.9667,1)">S-2</text>
<text transform="translate(243.57,760.30) scale(0.9259,1)">S-3</text>
<text transform="translate(244.48,884.80) scale(0.9448,1)">S-4</text>
<text transform="translate(249.95,1038.30) scale(0.9247,1)">EPDM</text>
</g>
<g class="tk">
<text x="242.8" y="1513.3" text-anchor="middle">80</text>
<text x="490.6" y="1513.3" text-anchor="middle">100</text>
<text x="738.5" y="1513.3" text-anchor="middle">120</text>
<text x="986.3" y="1513.3" text-anchor="middle">140</text>
<text x="1234.2" y="1513.3" text-anchor="middle">160</text>
<text x="1482.0" y="1513.3" text-anchor="middle">180</text>
<text x="1729.8" y="1513.3" text-anchor="middle">200</text>
</g>
<text class="lbl" style="font-size:71px" transform="translate(62.5,792) rotate(-90)">Endo</text>
<line x1="82" y1="600" x2="82" y2="830" stroke="#000" stroke-width="5.6"/>
<path d="M71.5,818.5 L82,824.5 L91.5,818.5 L82,857 Z" fill="#000"/>
<g transform="translate(0,1609) scale(1.000,1.170)">
<text class="xl" x="691.8 727.2 763.5 801.7 838.9 876.1 914.3 947.0 982.5 1017.6 1059.8 1096.6 1139.8 1169.7 1207.0 1242.7 1274.9" y="0.0 0.0 0.0 0.0 0.0 0.0 0.0 0.0 0.0 0.0 0.0 0.0 -6.0 0.0 0.0 0.0 -6.0" text-anchor="middle">Temperature (° C)</text>
</g>
</g>
</svg>
</body></html>
